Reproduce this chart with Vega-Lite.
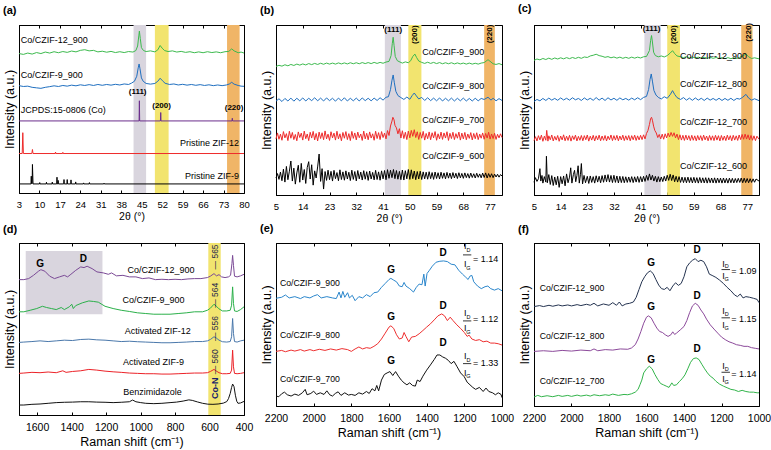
{
"$schema":"https://vega.github.io/schema/vega-lite/v6.json",
"padding":{"left":2,"top":2,"right":2,"bottom":2},
"columns":3,
"spacing":{"row":48,"column":32},
"bounds":"flush",
"resolve":{"scale":{"color":"independent","fill":"independent"}},
"datasets":{
"aB":[{"k":"g","x":42.2,"x2":46.5},{"k":"y","x":49.5,"x2":54.2},{"k":"o","x":74.2,"x2":78.5}],
"aL":[
{"s":"g","x":3,"y":83.0},{"s":"g","x":4.5,"y":82.5},{"s":"g","x":6,"y":83.3},{"s":"g","x":7.5,"y":82.7},{"s":"g","x":9,"y":83.6},{"s":"g","x":10.5,"y":83.0},{"s":"g","x":12,"y":83.9},{"s":"g","x":13.5,"y":83.3},{"s":"g","x":15,"y":84.1},{"s":"g","x":16.5,"y":83.5},{"s":"g","x":18,"y":84.2},{"s":"g","x":19.5,"y":83.7},{"s":"g","x":21,"y":84.5},{"s":"g","x":22.5,"y":84.0},{"s":"g","x":24,"y":84.9},{"s":"g","x":25.5,"y":85.3},{"s":"g","x":27,"y":84.6},{"s":"g","x":28.5,"y":84.9},{"s":"g","x":30,"y":84.0},{"s":"g","x":31.5,"y":84.4},{"s":"g","x":33,"y":83.8},{"s":"g","x":34.5,"y":84.3},{"s":"g","x":36,"y":83.6},{"s":"g","x":37.5,"y":84.1},{"s":"g","x":39,"y":83.6},{"s":"g","x":40.5,"y":84.2},{"s":"g","x":42,"y":83.9},{"s":"g","x":43,"y":84.8},{"s":"g","x":43.6,"y":87.5},{"s":"g","x":44,"y":93.5},{"s":"g","x":44.2,"y":96.4},{"s":"g","x":44.5,"y":92},{"s":"g","x":44.9,"y":86.5},{"s":"g","x":45.6,"y":84.8},{"s":"g","x":46.5,"y":84.2},{"s":"g","x":48,"y":84.6},{"s":"g","x":49.5,"y":84.0},{"s":"g","x":50.5,"y":85.2},{"s":"g","x":51.3,"y":87.8},{"s":"g","x":52,"y":86.2},{"s":"g","x":52.8,"y":84.8},{"s":"g","x":54,"y":84.2},{"s":"g","x":55.5,"y":84.6},{"s":"g","x":57,"y":83.9},{"s":"g","x":58.5,"y":84.3},{"s":"g","x":60,"y":83.7},{"s":"g","x":61.5,"y":84.1},{"s":"g","x":63,"y":83.5},{"s":"g","x":64.5,"y":84.0},{"s":"g","x":66,"y":83.5},{"s":"g","x":67.5,"y":84.1},{"s":"g","x":69,"y":83.6},{"s":"g","x":70.5,"y":84.0},{"s":"g","x":72,"y":83.5},{"s":"g","x":73.5,"y":84.1},{"s":"g","x":74.8,"y":84.3},{"s":"g","x":75.8,"y":85.8},{"s":"g","x":76.6,"y":84.6},{"s":"g","x":78,"y":83.5},{"s":"g","x":79,"y":83.9},{"s":"g","x":80,"y":83.3},
{"s":"b","x":3,"y":63.9},{"s":"b","x":4.5,"y":63.4},{"s":"b","x":6,"y":63.6},{"s":"b","x":7.5,"y":62.9},{"s":"b","x":9,"y":62.6},{"s":"b","x":10.5,"y":62.3},{"s":"b","x":12,"y":62.9},{"s":"b","x":13.5,"y":63.3},{"s":"b","x":15,"y":63.8},{"s":"b","x":16.5,"y":63.4},{"s":"b","x":18,"y":64.0},{"s":"b","x":19.5,"y":63.6},{"s":"b","x":21,"y":64.2},{"s":"b","x":22.5,"y":63.8},{"s":"b","x":24,"y":64.4},{"s":"b","x":25.5,"y":64.0},{"s":"b","x":27,"y":64.5},{"s":"b","x":28.5,"y":64.0},{"s":"b","x":30,"y":64.6},{"s":"b","x":31.5,"y":64.1},{"s":"b","x":33,"y":64.6},{"s":"b","x":34.5,"y":64.2},{"s":"b","x":36,"y":64.7},{"s":"b","x":37.5,"y":64.3},{"s":"b","x":39,"y":64.9},{"s":"b","x":40.5,"y":64.6},{"s":"b","x":41.5,"y":65.4},{"s":"b","x":42.5,"y":66.5},{"s":"b","x":43.3,"y":69.5},{"s":"b","x":43.8,"y":74.5},{"s":"b","x":44.1,"y":76.8},{"s":"b","x":44.4,"y":74},{"s":"b","x":44.9,"y":68.5},{"s":"b","x":45.5,"y":66.5},{"s":"b","x":46.5,"y":65.2},{"s":"b","x":48,"y":64.8},{"s":"b","x":49.5,"y":65.2},{"s":"b","x":50.5,"y":66.5},{"s":"b","x":51.3,"y":68.3},{"s":"b","x":52.1,"y":66.8},{"s":"b","x":53,"y":65.3},{"s":"b","x":54.5,"y":64.6},{"s":"b","x":56,"y":64.9},{"s":"b","x":57.5,"y":64.3},{"s":"b","x":59,"y":64.7},{"s":"b","x":60.5,"y":64.2},{"s":"b","x":62,"y":64.6},{"s":"b","x":63.5,"y":64.1},{"s":"b","x":65,"y":64.5},{"s":"b","x":66.5,"y":64.0},{"s":"b","x":68,"y":64.4},{"s":"b","x":69.5,"y":63.9},{"s":"b","x":71,"y":64.3},{"s":"b","x":72.5,"y":63.9},{"s":"b","x":74,"y":64.3},{"s":"b","x":75,"y":64.9},{"s":"b","x":75.8,"y":65.9},{"s":"b","x":76.6,"y":64.8},{"s":"b","x":78,"y":64.0},{"s":"b","x":79,"y":63.6},{"s":"b","x":80,"y":63.5},
{"s":"p","x":3,"y":42.9},{"s":"p","x":44.1,"y":42.9},{"s":"p","x":44.2,"y":54.9},{"s":"p","x":44.3,"y":42.9},{"s":"p","x":51.4,"y":42.9},{"s":"p","x":51.5,"y":47.9},{"s":"p","x":51.6,"y":42.9},{"s":"p","x":75.9,"y":42.9},{"s":"p","x":76.0,"y":44.5},{"s":"p","x":76.1,"y":42.9},{"s":"p","x":80,"y":42.9},
{"s":"r","x":3,"y":23.5},{"s":"r","x":4.1,"y":23.5},{"s":"r","x":4.3,"y":35.9},{"s":"r","x":4.5,"y":23.5},{"s":"r","x":7.4,"y":23.5},{"s":"r","x":7.6,"y":25.9},{"s":"r","x":7.8,"y":23.5},{"s":"r","x":15.4,"y":23.5},{"s":"r","x":15.5,"y":24.4},{"s":"r","x":15.6,"y":23.5},{"s":"r","x":17.9,"y":23.5},{"s":"r","x":18,"y":24.2},{"s":"r","x":18.1,"y":23.5},{"s":"r","x":80,"y":23.5},
{"s":"k","x":3,"y":5.4},{"s":"k","x":7.1,"y":5.4},{"s":"k","x":7.2,"y":10},{"s":"k","x":7.3,"y":5.6},{"s":"k","x":7.5,"y":5.6},{"s":"k","x":7.6,"y":17},{"s":"k","x":7.8,"y":5.4},{"s":"k","x":10,"y":5.4},{"s":"k","x":10.1,"y":6.2},{"s":"k","x":10.2,"y":5.4},{"s":"k","x":12.3,"y":5.4},{"s":"k","x":12.4,"y":6.4},{"s":"k","x":12.5,"y":5.4},{"s":"k","x":14.3,"y":5.4},{"s":"k","x":14.4,"y":6.5},{"s":"k","x":14.5,"y":5.4},{"s":"k","x":15.9,"y":5.4},{"s":"k","x":16.0,"y":9.4},{"s":"k","x":16.1,"y":5.4},{"s":"k","x":16.3,"y":5.4},{"s":"k","x":16.4,"y":7.5},{"s":"k","x":16.5,"y":5.4},{"s":"k","x":18.3,"y":5.4},{"s":"k","x":18.4,"y":8},{"s":"k","x":18.5,"y":5.4},{"s":"k","x":19.4,"y":5.4},{"s":"k","x":19.5,"y":8},{"s":"k","x":19.6,"y":5.4},{"s":"k","x":20.7,"y":5.4},{"s":"k","x":20.8,"y":7.8},{"s":"k","x":20.9,"y":5.4},{"s":"k","x":22.3,"y":5.4},{"s":"k","x":22.4,"y":6.6},{"s":"k","x":22.5,"y":5.4},{"s":"k","x":25,"y":5.4},{"s":"k","x":25.1,"y":6},{"s":"k","x":25.2,"y":5.4},{"s":"k","x":27,"y":5.4},{"s":"k","x":27.1,"y":6.2},{"s":"k","x":27.2,"y":5.4},{"s":"k","x":32,"y":5.4},{"s":"k","x":32.1,"y":5.9},{"s":"k","x":32.2,"y":5.4},{"s":"k","x":80,"y":5.4}
],
"aTl":[{"t":"Co/CZIF-12_900","x":3.6,"y":90.8},{"t":"Co/CZIF-9_900","x":3.6,"y":70.2},{"t":"JCPDS:15-0806 (Co)","x":3.6,"y":49.3}],
"aTr":[{"t":"Pristine ZIF-12","x":78.3,"y":29.5},{"t":"Pristine ZIF-9","x":78.3,"y":10}],
"aTb":[{"t":"(111)","x":43.6,"y":59.9},{"t":"(200)","x":51.8,"y":51.5},{"t":"(220)","x":76.6,"y":50.3}],
"bB":[{"k":"g","x":41.6,"x2":47.0},{"k":"y","x":49.5,"x2":53.9},{"k":"o","x":75,"x2":78.6}],
"bL":[
{"s":"g","x":5,"y":75.6},{"s":"g","x":6,"y":76.3},{"s":"g","x":7,"y":75.8},{"s":"g","x":8,"y":76.6},{"s":"g","x":9,"y":76.0},{"s":"g","x":10,"y":76.8},{"s":"g","x":11,"y":76.2},{"s":"g","x":12,"y":77.0},{"s":"g","x":13,"y":76.4},{"s":"g","x":14,"y":77.1},{"s":"g","x":15,"y":76.5},{"s":"g","x":16,"y":77.3},{"s":"g","x":17,"y":76.7},{"s":"g","x":18,"y":77.4},{"s":"g","x":19,"y":76.8},{"s":"g","x":20,"y":77.5},{"s":"g","x":21,"y":76.9},{"s":"g","x":22,"y":77.6},{"s":"g","x":23,"y":77.0},{"s":"g","x":24,"y":77.6},{"s":"g","x":25,"y":77.0},{"s":"g","x":26,"y":77.7},{"s":"g","x":27,"y":77.1},{"s":"g","x":28,"y":77.7},{"s":"g","x":29,"y":77.1},{"s":"g","x":30,"y":77.8},{"s":"g","x":31,"y":77.2},{"s":"g","x":32,"y":77.8},{"s":"g","x":33,"y":77.2},{"s":"g","x":34,"y":77.9},{"s":"g","x":35,"y":77.3},{"s":"g","x":36,"y":77.9},{"s":"g","x":37,"y":77.3},{"s":"g","x":38,"y":78.0},{"s":"g","x":39,"y":77.4},{"s":"g","x":40,"y":78.0},{"s":"g","x":41,"y":77.5},{"s":"g","x":42,"y":78.2},{"s":"g","x":43,"y":78.6},{"s":"g","x":43.7,"y":82},{"s":"g","x":44.1,"y":89},{"s":"g","x":44.4,"y":92.8},{"s":"g","x":44.7,"y":88},{"s":"g","x":45.1,"y":81.5},{"s":"g","x":45.8,"y":79},{"s":"g","x":46.7,"y":78.2},{"s":"g","x":47.5,"y":77.6},{"s":"g","x":48.5,"y":78.3},{"s":"g","x":49.5,"y":77.8},{"s":"g","x":50.3,"y":79.0},{"s":"g","x":51,"y":81.5},{"s":"g","x":51.7,"y":82.9},{"s":"g","x":52.3,"y":80.8},{"s":"g","x":53,"y":78.8},{"s":"g","x":54,"y":78.0},{"s":"g","x":55,"y":77.4},{"s":"g","x":56,"y":78.1},{"s":"g","x":57,"y":77.4},{"s":"g","x":58,"y":78.0},{"s":"g","x":59,"y":77.3},{"s":"g","x":60,"y":77.9},{"s":"g","x":61,"y":77.2},{"s":"g","x":62,"y":77.8},{"s":"g","x":63,"y":77.2},{"s":"g","x":64,"y":77.8},{"s":"g","x":65,"y":77.1},{"s":"g","x":66,"y":77.7},{"s":"g","x":67,"y":77.1},{"s":"g","x":68,"y":77.6},{"s":"g","x":69,"y":77.0},{"s":"g","x":70,"y":77.6},{"s":"g","x":71,"y":77.0},{"s":"g","x":72,"y":77.5},{"s":"g","x":73,"y":77.0},{"s":"g","x":74,"y":77.6},{"s":"g","x":75,"y":77.9},{"s":"g","x":76.3,"y":79.6},{"s":"g","x":77.3,"y":78.2},{"s":"g","x":78,"y":77.2},{"s":"g","x":79,"y":76.8},{"s":"g","x":80,"y":77.3},{"s":"g","x":81,"y":76.6},
{"s":"b","x":5,"y":55.2},{"s":"b","x":6,"y":56.6},{"s":"b","x":7,"y":55.0},{"s":"b","x":8,"y":56.8},{"s":"b","x":9,"y":55.3},{"s":"b","x":10,"y":57.0},{"s":"b","x":11,"y":55.2},{"s":"b","x":12,"y":56.9},{"s":"b","x":13,"y":55.4},{"s":"b","x":14,"y":57.1},{"s":"b","x":15,"y":55.3},{"s":"b","x":16,"y":56.9},{"s":"b","x":17,"y":55.5},{"s":"b","x":18,"y":57.2},{"s":"b","x":19,"y":55.4},{"s":"b","x":20,"y":57.0},{"s":"b","x":21,"y":55.3},{"s":"b","x":22,"y":57.1},{"s":"b","x":23,"y":55.5},{"s":"b","x":24,"y":56.9},{"s":"b","x":25,"y":55.2},{"s":"b","x":26,"y":57.0},{"s":"b","x":27,"y":55.4},{"s":"b","x":28,"y":57.2},{"s":"b","x":29,"y":55.3},{"s":"b","x":30,"y":56.9},{"s":"b","x":31,"y":55.4},{"s":"b","x":32,"y":57.0},{"s":"b","x":33,"y":55.3},{"s":"b","x":34,"y":57.1},{"s":"b","x":35,"y":55.5},{"s":"b","x":36,"y":56.9},{"s":"b","x":37,"y":55.4},{"s":"b","x":38,"y":57.0},{"s":"b","x":39,"y":55.6},{"s":"b","x":40,"y":57.2},{"s":"b","x":41,"y":55.8},{"s":"b","x":42,"y":57.5},{"s":"b","x":42.8,"y":57.8},{"s":"b","x":43.5,"y":62},{"s":"b","x":44.0,"y":67.5},{"s":"b","x":44.4,"y":70.6},{"s":"b","x":44.8,"y":66},{"s":"b","x":45.3,"y":61},{"s":"b","x":46,"y":58.5},{"s":"b","x":47,"y":57.3},{"s":"b","x":48,"y":56.2},{"s":"b","x":49,"y":57.6},{"s":"b","x":50,"y":56.3},{"s":"b","x":50.8,"y":58.5},{"s":"b","x":51.5,"y":60},{"s":"b","x":52.2,"y":58.3},{"s":"b","x":53,"y":56.5},{"s":"b","x":54,"y":57.4},{"s":"b","x":55,"y":55.6},{"s":"b","x":56,"y":57.2},{"s":"b","x":57,"y":55.5},{"s":"b","x":58,"y":57.0},{"s":"b","x":59,"y":55.4},{"s":"b","x":60,"y":57.1},{"s":"b","x":61,"y":55.3},{"s":"b","x":62,"y":56.9},{"s":"b","x":63,"y":55.4},{"s":"b","x":64,"y":57.0},{"s":"b","x":65,"y":55.3},{"s":"b","x":66,"y":56.9},{"s":"b","x":67,"y":55.4},{"s":"b","x":68,"y":57.0},{"s":"b","x":69,"y":55.3},{"s":"b","x":70,"y":56.8},{"s":"b","x":71,"y":55.3},{"s":"b","x":72,"y":56.9},{"s":"b","x":73,"y":55.4},{"s":"b","x":74,"y":56.8},{"s":"b","x":75,"y":56.2},{"s":"b","x":76.3,"y":57.5},{"s":"b","x":77.3,"y":55.8},{"s":"b","x":78,"y":56.9},{"s":"b","x":79,"y":55.4},{"s":"b","x":80,"y":56.7},{"s":"b","x":81,"y":55.6},
{"s":"r","x":5,"y":33.0},{"s":"r","x":5.5,"y":36.5},{"s":"r","x":6,"y":32.8},{"s":"r","x":6.5,"y":35.8},{"s":"r","x":7,"y":32.2},{"s":"r","x":7.5,"y":37.3},{"s":"r","x":8,"y":33.6},{"s":"r","x":8.5,"y":36.1},{"s":"r","x":9,"y":32.0},{"s":"r","x":9.5,"y":37.5},{"s":"r","x":10,"y":33.4},{"s":"r","x":10.5,"y":36.8},{"s":"r","x":11,"y":32.6},{"s":"r","x":11.5,"y":35.6},{"s":"r","x":12,"y":31.9},{"s":"r","x":12.5,"y":37.1},{"s":"r","x":13,"y":33.8},{"s":"r","x":13.5,"y":36.4},{"s":"r","x":14,"y":32.3},{"s":"r","x":14.5,"y":37.6},{"s":"r","x":15,"y":33.1},{"s":"r","x":15.5,"y":35.9},{"s":"r","x":16,"y":32.0},{"s":"r","x":16.5,"y":36.9},{"s":"r","x":17,"y":33.5},{"s":"r","x":17.5,"y":37.4},{"s":"r","x":18,"y":32.4},{"s":"r","x":18.5,"y":36.2},{"s":"r","x":19,"y":31.8},{"s":"r","x":19.5,"y":37.0},{"s":"r","x":20,"y":33.2},{"s":"r","x":20.5,"y":36.6},{"s":"r","x":21,"y":32.5},{"s":"r","x":21.5,"y":37.7},{"s":"r","x":22,"y":33.0},{"s":"r","x":22.5,"y":35.8},{"s":"r","x":23,"y":32.1},{"s":"r","x":23.5,"y":37.2},{"s":"r","x":24,"y":33.6},{"s":"r","x":24.5,"y":36.4},{"s":"r","x":25,"y":32.3},{"s":"r","x":25.5,"y":37.5},{"s":"r","x":26,"y":33.0},{"s":"r","x":26.5,"y":36.0},{"s":"r","x":27,"y":31.9},{"s":"r","x":27.5,"y":36.8},{"s":"r","x":28,"y":33.4},{"s":"r","x":28.5,"y":37.3},{"s":"r","x":29,"y":32.6},{"s":"r","x":29.5,"y":36.1},{"s":"r","x":30,"y":32.0},{"s":"r","x":30.5,"y":37.4},{"s":"r","x":31,"y":33.3},{"s":"r","x":31.5,"y":36.5},{"s":"r","x":32,"y":32.4},{"s":"r","x":32.5,"y":37.0},{"s":"r","x":33,"y":33.7},{"s":"r","x":33.5,"y":35.9},{"s":"r","x":34,"y":32.1},{"s":"r","x":34.5,"y":37.6},{"s":"r","x":35,"y":33.0},{"s":"r","x":35.5,"y":36.3},{"s":"r","x":36,"y":32.5},{"s":"r","x":36.5,"y":37.1},{"s":"r","x":37,"y":33.5},{"s":"r","x":37.5,"y":36.0},{"s":"r","x":38,"y":32.2},{"s":"r","x":38.5,"y":37.5},{"s":"r","x":39,"y":33.2},{"s":"r","x":39.5,"y":36.7},{"s":"r","x":40,"y":32.6},{"s":"r","x":40.5,"y":37.3},{"s":"r","x":41,"y":33.8},{"s":"r","x":41.5,"y":36.4},{"s":"r","x":42,"y":33.0},{"s":"r","x":42.5,"y":37.9},{"s":"r","x":43,"y":35.0},{"s":"r","x":43.5,"y":40.6},{"s":"r","x":44,"y":43.5},{"s":"r","x":44.3,"y":45.7},{"s":"r","x":44.7,"y":44.2},{"s":"r","x":45,"y":41.0},{"s":"r","x":45.5,"y":39.5},{"s":"r","x":46,"y":36.0},{"s":"r","x":46.5,"y":39.0},{"s":"r","x":47,"y":33.5},{"s":"r","x":47.5,"y":37.8},{"s":"r","x":48,"y":33.2},{"s":"r","x":48.5,"y":36.9},{"s":"r","x":49,"y":32.6},{"s":"r","x":49.5,"y":37.6},{"s":"r","x":50,"y":33.6},{"s":"r","x":50.5,"y":38.0},{"s":"r","x":51,"y":34.5},{"s":"r","x":51.5,"y":38.4},{"s":"r","x":52,"y":33.8},{"s":"r","x":52.5,"y":37.2},{"s":"r","x":53,"y":32.7},{"s":"r","x":53.5,"y":36.8},{"s":"r","x":54,"y":33.4},{"s":"r","x":54.5,"y":37.4},{"s":"r","x":55,"y":32.3},{"s":"r","x":55.5,"y":36.2},{"s":"r","x":56,"y":33.1},{"s":"r","x":56.5,"y":37.1},{"s":"r","x":57,"y":32.5},{"s":"r","x":57.5,"y":36.6},{"s":"r","x":58,"y":33.6},{"s":"r","x":58.5,"y":37.3},{"s":"r","x":59,"y":32.2},{"s":"r","x":59.5,"y":36.0},{"s":"r","x":60,"y":33.0},{"s":"r","x":60.5,"y":37.0},{"s":"r","x":61,"y":32.7},{"s":"r","x":61.5,"y":36.5},{"s":"r","x":62,"y":33.5},{"s":"r","x":62.5,"y":37.2},{"s":"r","x":63,"y":32.1},{"s":"r","x":63.5,"y":36.3},{"s":"r","x":64,"y":33.2},{"s":"r","x":64.5,"y":36.9},{"s":"r","x":65,"y":32.6},{"s":"r","x":65.5,"y":36.1},{"s":"r","x":66,"y":33.4},{"s":"r","x":66.5,"y":37.0},{"s":"r","x":67,"y":32.3},{"s":"r","x":67.5,"y":36.4},{"s":"r","x":68,"y":33.0},{"s":"r","x":68.5,"y":36.8},{"s":"r","x":69,"y":32.5},{"s":"r","x":69.5,"y":35.9},{"s":"r","x":70,"y":33.3},{"s":"r","x":70.5,"y":36.7},{"s":"r","x":71,"y":32.4},{"s":"r","x":71.5,"y":36.2},{"s":"r","x":72,"y":33.1},{"s":"r","x":72.5,"y":36.6},{"s":"r","x":73,"y":32.6},{"s":"r","x":73.5,"y":35.8},{"s":"r","x":74,"y":33.4},{"s":"r","x":74.5,"y":36.5},{"s":"r","x":75,"y":32.8},{"s":"r","x":75.5,"y":36.2},{"s":"r","x":76,"y":33.5},{"s":"r","x":76.5,"y":36.9},{"s":"r","x":77,"y":32.9},{"s":"r","x":77.5,"y":35.9},{"s":"r","x":78,"y":33.2},{"s":"r","x":78.5,"y":36.3},{"s":"r","x":79,"y":32.7},{"s":"r","x":79.5,"y":35.7},{"s":"r","x":80,"y":33.6},{"s":"r","x":80.5,"y":36.0},{"s":"r","x":81,"y":33.8},
{"s":"k","x":5,"y":10.0},{"s":"k","x":5.5,"y":12.6},{"s":"k","x":6,"y":9.2},{"s":"k","x":6.5,"y":13.5},{"s":"k","x":7,"y":8.4},{"s":"k","x":7.5,"y":15.2},{"s":"k","x":8,"y":7.6},{"s":"k","x":8.5,"y":16.8},{"s":"k","x":9,"y":9.0},{"s":"k","x":9.5,"y":14.0},{"s":"k","x":10,"y":20.0},{"s":"k","x":10.5,"y":8.2},{"s":"k","x":11,"y":15.8},{"s":"k","x":11.5,"y":6.4},{"s":"k","x":12,"y":13.0},{"s":"k","x":12.5,"y":17.5},{"s":"k","x":13,"y":7.5},{"s":"k","x":13.5,"y":18.6},{"s":"k","x":14,"y":8.8},{"s":"k","x":14.5,"y":15.0},{"s":"k","x":15,"y":6.8},{"s":"k","x":15.5,"y":16.2},{"s":"k","x":16,"y":19.6},{"s":"k","x":16.5,"y":9.4},{"s":"k","x":17,"y":17.8},{"s":"k","x":17.5,"y":5.8},{"s":"k","x":18,"y":14.2},{"s":"k","x":18.5,"y":10.0},{"s":"k","x":19,"y":16.5},{"s":"k","x":19.5,"y":24.1},{"s":"k","x":20,"y":8.0},{"s":"k","x":20.5,"y":15.5},{"s":"k","x":21,"y":3.5},{"s":"k","x":21.5,"y":13.8},{"s":"k","x":22,"y":8.6},{"s":"k","x":22.5,"y":14.6},{"s":"k","x":23,"y":9.0},{"s":"k","x":23.5,"y":13.9},{"s":"k","x":24,"y":8.2},{"s":"k","x":24.5,"y":14.5},{"s":"k","x":25,"y":9.6},{"s":"k","x":25.5,"y":13.2},{"s":"k","x":26,"y":8.4},{"s":"k","x":26.5,"y":14.8},{"s":"k","x":27,"y":9.1},{"s":"k","x":27.5,"y":13.6},{"s":"k","x":28,"y":8.7},{"s":"k","x":28.5,"y":14.2},{"s":"k","x":29,"y":9.4},{"s":"k","x":29.5,"y":13.4},{"s":"k","x":30,"y":8.5},{"s":"k","x":30.5,"y":14.6},{"s":"k","x":31,"y":9.2},{"s":"k","x":31.5,"y":13.8},{"s":"k","x":32,"y":8.3},{"s":"k","x":32.5,"y":14.4},{"s":"k","x":33,"y":9.5},{"s":"k","x":33.5,"y":13.5},{"s":"k","x":34,"y":8.8},{"s":"k","x":34.5,"y":14.3},{"s":"k","x":35,"y":9.3},{"s":"k","x":35.5,"y":13.7},{"s":"k","x":36,"y":8.6},{"s":"k","x":36.5,"y":14.1},{"s":"k","x":37,"y":9.4},{"s":"k","x":37.5,"y":13.3},{"s":"k","x":38,"y":8.9},{"s":"k","x":38.5,"y":14.5},{"s":"k","x":39,"y":9.1},{"s":"k","x":39.5,"y":13.6},{"s":"k","x":40,"y":8.7},{"s":"k","x":40.5,"y":14.2},{"s":"k","x":41,"y":9.5},{"s":"k","x":41.5,"y":14.4},{"s":"k","x":42,"y":9.0},{"s":"k","x":42.5,"y":14.9},{"s":"k","x":43,"y":9.8},{"s":"k","x":43.5,"y":14.6},{"s":"k","x":44,"y":10.2},{"s":"k","x":44.5,"y":15.0},{"s":"k","x":45,"y":9.6},{"s":"k","x":45.5,"y":14.4},{"s":"k","x":46,"y":9.3},{"s":"k","x":46.5,"y":13.9},{"s":"k","x":47,"y":9.0},{"s":"k","x":47.5,"y":14.7},{"s":"k","x":48,"y":8.8},{"s":"k","x":48.5,"y":14.3},{"s":"k","x":49,"y":9.5},{"s":"k","x":49.5,"y":15.0},{"s":"k","x":50,"y":9.2},{"s":"k","x":50.5,"y":14.8},{"s":"k","x":51,"y":9.6},{"s":"k","x":51.5,"y":14.1},{"s":"k","x":52,"y":9.0},{"s":"k","x":52.5,"y":13.8},{"s":"k","x":53,"y":9.4},{"s":"k","x":53.5,"y":14.0},{"s":"k","x":54,"y":9.1},{"s":"k","x":54.5,"y":13.6},{"s":"k","x":55,"y":9.5},{"s":"k","x":55.5,"y":13.4},{"s":"k","x":56,"y":9.3},{"s":"k","x":56.5,"y":13.7},{"s":"k","x":57,"y":9.6},{"s":"k","x":57.5,"y":13.2},{"s":"k","x":58,"y":9.2},{"s":"k","x":58.5,"y":13.5},{"s":"k","x":59,"y":9.7},{"s":"k","x":59.5,"y":13.1},{"s":"k","x":60,"y":9.4},{"s":"k","x":60.5,"y":13.4},{"s":"k","x":61,"y":9.8},{"s":"k","x":61.5,"y":13.0},{"s":"k","x":62,"y":9.5},{"s":"k","x":62.5,"y":13.3},{"s":"k","x":63,"y":9.9},{"s":"k","x":63.5,"y":12.9},{"s":"k","x":64,"y":9.6},{"s":"k","x":64.5,"y":13.2},{"s":"k","x":65,"y":10.0},{"s":"k","x":65.5,"y":12.8},{"s":"k","x":66,"y":9.7},{"s":"k","x":66.5,"y":13.1},{"s":"k","x":67,"y":10.1},{"s":"k","x":67.5,"y":12.7},{"s":"k","x":68,"y":9.8},{"s":"k","x":68.5,"y":13.0},{"s":"k","x":69,"y":10.2},{"s":"k","x":69.5,"y":12.6},{"s":"k","x":70,"y":9.9},{"s":"k","x":70.5,"y":12.9},{"s":"k","x":71,"y":10.3},{"s":"k","x":71.5,"y":12.5},{"s":"k","x":72,"y":10.0},{"s":"k","x":72.5,"y":12.8},{"s":"k","x":73,"y":10.4},{"s":"k","x":73.5,"y":12.4},{"s":"k","x":74,"y":10.1},{"s":"k","x":74.5,"y":12.9},{"s":"k","x":75,"y":10.3},{"s":"k","x":75.5,"y":13.0},{"s":"k","x":76,"y":10.0},{"s":"k","x":76.5,"y":12.6},{"s":"k","x":77,"y":10.4},{"s":"k","x":77.5,"y":12.5},{"s":"k","x":78,"y":10.2},{"s":"k","x":78.5,"y":12.3},{"s":"k","x":79,"y":10.6},{"s":"k","x":79.5,"y":12.2},{"s":"k","x":80,"y":10.5},{"s":"k","x":80.5,"y":12.0},{"s":"k","x":81,"y":11.2}
],
"bTr":[{"t":"Co/CZIF-9_900","x":75,"y":84.4},{"t":"Co/CZIF-9_800","x":75,"y":64.4},{"t":"Co/CZIF-9_700","x":75,"y":44.3},{"t":"Co/CZIF-9_600","x":75,"y":22.8}],
"bTh":[{"t":"(111)","x":44.4,"y":96.9}],
"bTv":[{"t":"(200)","x":51.7,"y":94.3},{"t":"(220)","x":77.0,"y":94.7}],
"cB":[{"k":"g","x":42.3,"x2":47.8},{"k":"y","x":50,"x2":54.3},{"k":"o","x":75,"x2":78.8}],
"cL":[
{"s":"g","x":5,"y":79.2},{"s":"g","x":6,"y":80.0},{"s":"g","x":7,"y":79.5},{"s":"g","x":8,"y":80.3},{"s":"g","x":9,"y":79.7},{"s":"g","x":10,"y":80.5},{"s":"g","x":11,"y":79.8},{"s":"g","x":12,"y":80.6},{"s":"g","x":13,"y":80.0},{"s":"g","x":14,"y":80.7},{"s":"g","x":15,"y":80.1},{"s":"g","x":16,"y":80.8},{"s":"g","x":17,"y":80.2},{"s":"g","x":18,"y":80.9},{"s":"g","x":19,"y":80.3},{"s":"g","x":20,"y":81.0},{"s":"g","x":21,"y":80.4},{"s":"g","x":22,"y":81.2},{"s":"g","x":23,"y":80.9},{"s":"g","x":24,"y":81.8},{"s":"g","x":25,"y":82.2},{"s":"g","x":26,"y":82.8},{"s":"g","x":27,"y":82.0},{"s":"g","x":28,"y":81.6},{"s":"g","x":29,"y":81.0},{"s":"g","x":30,"y":81.4},{"s":"g","x":31,"y":80.7},{"s":"g","x":32,"y":81.2},{"s":"g","x":33,"y":80.5},{"s":"g","x":34,"y":81.1},{"s":"g","x":35,"y":80.4},{"s":"g","x":36,"y":81.0},{"s":"g","x":37,"y":80.4},{"s":"g","x":38,"y":81.1},{"s":"g","x":39,"y":80.5},{"s":"g","x":40,"y":81.1},{"s":"g","x":41,"y":80.6},{"s":"g","x":42,"y":81.3},{"s":"g","x":43,"y":81.5},{"s":"g","x":44,"y":85},{"s":"g","x":44.4,"y":91},{"s":"g","x":44.7,"y":93.8},{"s":"g","x":45,"y":90},{"s":"g","x":45.4,"y":84},{"s":"g","x":46,"y":82},{"s":"g","x":47,"y":81.3},{"s":"g","x":48,"y":81.8},{"s":"g","x":49,"y":81.2},{"s":"g","x":50,"y":82.0},{"s":"g","x":51,"y":83.5},{"s":"g","x":51.8,"y":84.9},{"s":"g","x":52.5,"y":83.2},{"s":"g","x":53.3,"y":81.8},{"s":"g","x":54.5,"y":81.3},{"s":"g","x":55.5,"y":80.8},{"s":"g","x":56.5,"y":81.4},{"s":"g","x":57.5,"y":80.7},{"s":"g","x":58.5,"y":81.2},{"s":"g","x":59.5,"y":80.6},{"s":"g","x":60.5,"y":81.1},{"s":"g","x":61.5,"y":80.5},{"s":"g","x":62.5,"y":81.0},{"s":"g","x":63.5,"y":80.4},{"s":"g","x":64.5,"y":81.0},{"s":"g","x":65.5,"y":80.4},{"s":"g","x":66.5,"y":80.9},{"s":"g","x":67.5,"y":80.3},{"s":"g","x":68.5,"y":80.8},{"s":"g","x":69.5,"y":80.2},{"s":"g","x":70.5,"y":80.8},{"s":"g","x":71.5,"y":80.2},{"s":"g","x":72.5,"y":80.7},{"s":"g","x":73.5,"y":80.3},{"s":"g","x":74.5,"y":81.0},{"s":"g","x":75.5,"y":81.8},{"s":"g","x":76.6,"y":82.9},{"s":"g","x":77.5,"y":81.3},{"s":"g","x":78.5,"y":80.3},{"s":"g","x":79.5,"y":80.7},{"s":"g","x":81,"y":80.1},
{"s":"b","x":5,"y":55.0},{"s":"b","x":6,"y":56.2},{"s":"b","x":7,"y":55.4},{"s":"b","x":8,"y":56.8},{"s":"b","x":9,"y":55.6},{"s":"b","x":10,"y":57.0},{"s":"b","x":11,"y":55.8},{"s":"b","x":12,"y":56.8},{"s":"b","x":13,"y":55.7},{"s":"b","x":14,"y":57.1},{"s":"b","x":15,"y":55.9},{"s":"b","x":16,"y":56.9},{"s":"b","x":17,"y":55.8},{"s":"b","x":18,"y":57.2},{"s":"b","x":19,"y":56.0},{"s":"b","x":20,"y":56.8},{"s":"b","x":21,"y":55.6},{"s":"b","x":22,"y":57.1},{"s":"b","x":23,"y":55.9},{"s":"b","x":24,"y":56.9},{"s":"b","x":25,"y":55.7},{"s":"b","x":26,"y":57.3},{"s":"b","x":27,"y":55.8},{"s":"b","x":28,"y":57.0},{"s":"b","x":29,"y":55.6},{"s":"b","x":30,"y":57.2},{"s":"b","x":31,"y":55.9},{"s":"b","x":32,"y":56.9},{"s":"b","x":33,"y":55.7},{"s":"b","x":34,"y":57.1},{"s":"b","x":35,"y":56.0},{"s":"b","x":36,"y":56.8},{"s":"b","x":37,"y":55.8},{"s":"b","x":38,"y":57.0},{"s":"b","x":39,"y":56.0},{"s":"b","x":40,"y":57.2},{"s":"b","x":41,"y":56.1},{"s":"b","x":42,"y":57.4},{"s":"b","x":43,"y":58.0},{"s":"b","x":43.7,"y":62},{"s":"b","x":44.2,"y":68},{"s":"b","x":44.6,"y":71.2},{"s":"b","x":45,"y":67},{"s":"b","x":45.5,"y":61.5},{"s":"b","x":46.2,"y":58.8},{"s":"b","x":47,"y":57.4},{"s":"b","x":48,"y":56.5},{"s":"b","x":49,"y":57.8},{"s":"b","x":50,"y":56.9},{"s":"b","x":51,"y":59.0},{"s":"b","x":51.8,"y":61.4},{"s":"b","x":52.5,"y":59.2},{"s":"b","x":53.3,"y":57.3},{"s":"b","x":54.5,"y":56.2},{"s":"b","x":55.5,"y":57.3},{"s":"b","x":56.5,"y":55.8},{"s":"b","x":57.5,"y":57.0},{"s":"b","x":58.5,"y":55.7},{"s":"b","x":59.5,"y":57.1},{"s":"b","x":60.5,"y":55.8},{"s":"b","x":61.5,"y":56.9},{"s":"b","x":62.5,"y":55.6},{"s":"b","x":63.5,"y":57.0},{"s":"b","x":64.5,"y":55.8},{"s":"b","x":65.5,"y":56.8},{"s":"b","x":66.5,"y":55.7},{"s":"b","x":67.5,"y":56.9},{"s":"b","x":68.5,"y":55.6},{"s":"b","x":69.5,"y":56.8},{"s":"b","x":70.5,"y":55.7},{"s":"b","x":71.5,"y":56.9},{"s":"b","x":72.5,"y":55.6},{"s":"b","x":73.5,"y":56.8},{"s":"b","x":74.5,"y":56.4},{"s":"b","x":75.5,"y":57.5},{"s":"b","x":76.6,"y":59.2},{"s":"b","x":77.5,"y":57.0},{"s":"b","x":78.5,"y":55.8},{"s":"b","x":79.5,"y":56.6},{"s":"b","x":81,"y":55.5},
{"s":"r","x":5,"y":32.0},{"s":"r","x":5.5,"y":34.3},{"s":"r","x":6,"y":31.8},{"s":"r","x":6.5,"y":34.9},{"s":"r","x":7,"y":32.4},{"s":"r","x":7.5,"y":35.2},{"s":"r","x":8,"y":31.6},{"s":"r","x":8.5,"y":34.6},{"s":"r","x":9,"y":32.2},{"s":"r","x":9.3,"y":38.0},{"s":"r","x":9.7,"y":31.7},{"s":"r","x":10,"y":34.8},{"s":"r","x":10.5,"y":32.5},{"s":"r","x":11,"y":35.3},{"s":"r","x":11.5,"y":31.8},{"s":"r","x":12,"y":34.5},{"s":"r","x":12.5,"y":32.3},{"s":"r","x":13,"y":35.0},{"s":"r","x":13.5,"y":31.6},{"s":"r","x":14,"y":34.7},{"s":"r","x":14.5,"y":32.4},{"s":"r","x":15,"y":35.4},{"s":"r","x":15.5,"y":31.9},{"s":"r","x":16,"y":34.6},{"s":"r","x":16.5,"y":32.1},{"s":"r","x":17,"y":35.1},{"s":"r","x":17.5,"y":31.7},{"s":"r","x":18,"y":34.8},{"s":"r","x":18.5,"y":32.6},{"s":"r","x":19,"y":35.2},{"s":"r","x":19.5,"y":31.8},{"s":"r","x":20,"y":34.5},{"s":"r","x":20.5,"y":32.2},{"s":"r","x":21,"y":35.0},{"s":"r","x":21.5,"y":31.9},{"s":"r","x":22,"y":34.9},{"s":"r","x":22.5,"y":32.5},{"s":"r","x":23,"y":35.3},{"s":"r","x":23.5,"y":31.7},{"s":"r","x":24,"y":34.6},{"s":"r","x":24.5,"y":32.3},{"s":"r","x":25,"y":35.1},{"s":"r","x":25.5,"y":31.8},{"s":"r","x":26,"y":34.8},{"s":"r","x":26.5,"y":32.4},{"s":"r","x":27,"y":35.2},{"s":"r","x":27.5,"y":31.9},{"s":"r","x":28,"y":34.7},{"s":"r","x":28.5,"y":32.2},{"s":"r","x":29,"y":35.0},{"s":"r","x":29.5,"y":31.8},{"s":"r","x":30,"y":34.6},{"s":"r","x":30.5,"y":32.5},{"s":"r","x":31,"y":35.3},{"s":"r","x":31.5,"y":32.0},{"s":"r","x":32,"y":34.9},{"s":"r","x":32.5,"y":32.3},{"s":"r","x":33,"y":35.1},{"s":"r","x":33.5,"y":31.9},{"s":"r","x":34,"y":34.7},{"s":"r","x":34.5,"y":32.4},{"s":"r","x":35,"y":35.2},{"s":"r","x":35.5,"y":32.0},{"s":"r","x":36,"y":34.8},{"s":"r","x":36.5,"y":32.3},{"s":"r","x":37,"y":35.0},{"s":"r","x":37.5,"y":31.9},{"s":"r","x":38,"y":34.9},{"s":"r","x":38.5,"y":32.5},{"s":"r","x":39,"y":35.2},{"s":"r","x":39.5,"y":32.1},{"s":"r","x":40,"y":34.8},{"s":"r","x":40.5,"y":32.4},{"s":"r","x":41,"y":35.1},{"s":"r","x":41.5,"y":32.6},{"s":"r","x":42,"y":35.4},{"s":"r","x":42.5,"y":33.0},{"s":"r","x":43,"y":36.2},{"s":"r","x":43.5,"y":38.0},{"s":"r","x":44,"y":41.5},{"s":"r","x":44.4,"y":45.0},{"s":"r","x":44.7,"y":45.7},{"s":"r","x":45,"y":44.0},{"s":"r","x":45.4,"y":40.5},{"s":"r","x":45.8,"y":38.0},{"s":"r","x":46.3,"y":36.5},{"s":"r","x":46.8,"y":33.8},{"s":"r","x":47.3,"y":35.6},{"s":"r","x":47.8,"y":33.0},{"s":"r","x":48.3,"y":35.8},{"s":"r","x":48.8,"y":32.8},{"s":"r","x":49.3,"y":36.0},{"s":"r","x":49.8,"y":33.6},{"s":"r","x":50.3,"y":36.4},{"s":"r","x":50.8,"y":34.2},{"s":"r","x":51.3,"y":36.8},{"s":"r","x":51.8,"y":34.5},{"s":"r","x":52.3,"y":36.6},{"s":"r","x":52.8,"y":33.6},{"s":"r","x":53.3,"y":35.8},{"s":"r","x":53.8,"y":32.6},{"s":"r","x":54.3,"y":35.4},{"s":"r","x":54.8,"y":32.3},{"s":"r","x":55.3,"y":35.1},{"s":"r","x":55.8,"y":32.1},{"s":"r","x":56.3,"y":35.2},{"s":"r","x":56.8,"y":32.4},{"s":"r","x":57.3,"y":34.9},{"s":"r","x":57.8,"y":32.0},{"s":"r","x":58.3,"y":35.1},{"s":"r","x":58.8,"y":32.2},{"s":"r","x":59.3,"y":34.8},{"s":"r","x":59.8,"y":31.9},{"s":"r","x":60.3,"y":35.0},{"s":"r","x":60.8,"y":32.3},{"s":"r","x":61.3,"y":34.9},{"s":"r","x":61.8,"y":32.0},{"s":"r","x":62.3,"y":35.2},{"s":"r","x":62.8,"y":32.4},{"s":"r","x":63.3,"y":34.7},{"s":"r","x":63.8,"y":31.9},{"s":"r","x":64.3,"y":35.0},{"s":"r","x":64.8,"y":32.2},{"s":"r","x":65.3,"y":34.8},{"s":"r","x":65.8,"y":32.0},{"s":"r","x":66.3,"y":35.1},{"s":"r","x":66.8,"y":32.3},{"s":"r","x":67.3,"y":34.9},{"s":"r","x":67.8,"y":31.8},{"s":"r","x":68.3,"y":35.0},{"s":"r","x":68.8,"y":32.2},{"s":"r","x":69.3,"y":34.7},{"s":"r","x":69.8,"y":32.0},{"s":"r","x":70.3,"y":35.2},{"s":"r","x":70.8,"y":32.4},{"s":"r","x":71.3,"y":34.9},{"s":"r","x":71.8,"y":31.9},{"s":"r","x":72.3,"y":35.1},{"s":"r","x":72.8,"y":32.3},{"s":"r","x":73.3,"y":34.8},{"s":"r","x":73.8,"y":32.1},{"s":"r","x":74.3,"y":35.3},{"s":"r","x":74.8,"y":32.6},{"s":"r","x":75.3,"y":35.6},{"s":"r","x":75.8,"y":32.8},{"s":"r","x":76.3,"y":35.8},{"s":"r","x":76.8,"y":32.9},{"s":"r","x":77.3,"y":35.4},{"s":"r","x":77.8,"y":32.4},{"s":"r","x":78.3,"y":35.0},{"s":"r","x":78.8,"y":32.2},{"s":"r","x":79.3,"y":34.8},{"s":"r","x":79.8,"y":32.0},{"s":"r","x":80.3,"y":34.6},{"s":"r","x":81,"y":32.8},
{"s":"k","x":5,"y":7.5},{"s":"k","x":5.5,"y":10.2},{"s":"k","x":6,"y":8.0},{"s":"k","x":6.5,"y":9.6},{"s":"k","x":7,"y":15.5},{"s":"k","x":7.3,"y":8.2},{"s":"k","x":7.7,"y":11.5},{"s":"k","x":8,"y":7.0},{"s":"k","x":8.5,"y":10.8},{"s":"k","x":9.0,"y":7.6},{"s":"k","x":9.2,"y":22.8},{"s":"k","x":9.5,"y":7.2},{"s":"k","x":10,"y":12.0},{"s":"k","x":10.5,"y":6.2},{"s":"k","x":11,"y":11.4},{"s":"k","x":11.5,"y":5.6},{"s":"k","x":12,"y":10.6},{"s":"k","x":12.5,"y":6.0},{"s":"k","x":13,"y":11.0},{"s":"k","x":13.5,"y":4.5},{"s":"k","x":14,"y":10.8},{"s":"k","x":14.5,"y":6.6},{"s":"k","x":15,"y":11.2},{"s":"k","x":15.5,"y":5.4},{"s":"k","x":16,"y":12.4},{"s":"k","x":16.5,"y":7.2},{"s":"k","x":17,"y":10.5},{"s":"k","x":17.4,"y":16.0},{"s":"k","x":17.8,"y":7.0},{"s":"k","x":18.3,"y":12.0},{"s":"k","x":18.7,"y":14.5},{"s":"k","x":19.1,"y":7.8},{"s":"k","x":19.5,"y":11.5},{"s":"k","x":19.9,"y":17.2},{"s":"k","x":20.3,"y":7.0},{"s":"k","x":20.7,"y":12.2},{"s":"k","x":21,"y":18.5},{"s":"k","x":21.4,"y":6.5},{"s":"k","x":21.9,"y":11.5},{"s":"k","x":22.4,"y":7.2},{"s":"k","x":23,"y":11.0},{"s":"k","x":23.5,"y":6.8},{"s":"k","x":24,"y":11.2},{"s":"k","x":24.5,"y":7.4},{"s":"k","x":25,"y":10.8},{"s":"k","x":25.5,"y":7.0},{"s":"k","x":26,"y":11.3},{"s":"k","x":26.5,"y":7.6},{"s":"k","x":27,"y":11.0},{"s":"k","x":27.5,"y":7.2},{"s":"k","x":28,"y":11.4},{"s":"k","x":28.5,"y":7.5},{"s":"k","x":29,"y":11.8},{"s":"k","x":29.5,"y":7.8},{"s":"k","x":30,"y":12.0},{"s":"k","x":30.5,"y":7.6},{"s":"k","x":31,"y":11.5},{"s":"k","x":31.5,"y":7.3},{"s":"k","x":32,"y":11.6},{"s":"k","x":32.5,"y":7.4},{"s":"k","x":33,"y":11.2},{"s":"k","x":33.5,"y":7.1},{"s":"k","x":34,"y":11.0},{"s":"k","x":34.5,"y":7.3},{"s":"k","x":35,"y":10.9},{"s":"k","x":35.5,"y":7.2},{"s":"k","x":36,"y":10.7},{"s":"k","x":36.5,"y":7.4},{"s":"k","x":37,"y":10.6},{"s":"k","x":37.5,"y":7.5},{"s":"k","x":38,"y":10.8},{"s":"k","x":38.5,"y":7.3},{"s":"k","x":39,"y":10.7},{"s":"k","x":39.5,"y":7.6},{"s":"k","x":40,"y":10.9},{"s":"k","x":40.5,"y":7.4},{"s":"k","x":41,"y":10.8},{"s":"k","x":41.5,"y":7.7},{"s":"k","x":42,"y":11.0},{"s":"k","x":42.5,"y":8.0},{"s":"k","x":43,"y":11.5},{"s":"k","x":43.5,"y":8.6},{"s":"k","x":44,"y":12.4},{"s":"k","x":44.5,"y":8.8},{"s":"k","x":45,"y":11.6},{"s":"k","x":45.5,"y":8.2},{"s":"k","x":46,"y":11.0},{"s":"k","x":46.5,"y":7.6},{"s":"k","x":47,"y":10.8},{"s":"k","x":47.5,"y":7.8},{"s":"k","x":48,"y":10.6},{"s":"k","x":48.5,"y":7.9},{"s":"k","x":49,"y":11.0},{"s":"k","x":49.5,"y":8.2},{"s":"k","x":50,"y":11.6},{"s":"k","x":50.5,"y":8.6},{"s":"k","x":51,"y":12.2},{"s":"k","x":51.5,"y":8.5},{"s":"k","x":52,"y":11.8},{"s":"k","x":52.5,"y":7.8},{"s":"k","x":53,"y":11.0},{"s":"k","x":53.5,"y":7.6},{"s":"k","x":54,"y":10.8},{"s":"k","x":54.5,"y":7.4},{"s":"k","x":55,"y":10.5},{"s":"k","x":55.5,"y":7.3},{"s":"k","x":56,"y":10.4},{"s":"k","x":56.5,"y":7.2},{"s":"k","x":57,"y":10.5},{"s":"k","x":57.5,"y":7.3},{"s":"k","x":58,"y":10.3},{"s":"k","x":58.5,"y":7.1},{"s":"k","x":59,"y":10.4},{"s":"k","x":59.5,"y":7.2},{"s":"k","x":60,"y":10.2},{"s":"k","x":60.5,"y":7.0},{"s":"k","x":61,"y":10.3},{"s":"k","x":61.5,"y":7.2},{"s":"k","x":62,"y":10.1},{"s":"k","x":62.5,"y":7.1},{"s":"k","x":63,"y":10.2},{"s":"k","x":63.5,"y":7.0},{"s":"k","x":64,"y":10.1},{"s":"k","x":64.5,"y":7.2},{"s":"k","x":65,"y":10.0},{"s":"k","x":65.5,"y":7.1},{"s":"k","x":66,"y":10.1},{"s":"k","x":66.5,"y":7.0},{"s":"k","x":67,"y":10.0},{"s":"k","x":67.5,"y":7.2},{"s":"k","x":68,"y":9.9},{"s":"k","x":68.5,"y":7.0},{"s":"k","x":69,"y":10.0},{"s":"k","x":69.5,"y":7.1},{"s":"k","x":70,"y":9.8},{"s":"k","x":70.5,"y":7.0},{"s":"k","x":71,"y":9.9},{"s":"k","x":71.5,"y":7.2},{"s":"k","x":72,"y":9.8},{"s":"k","x":72.5,"y":7.1},{"s":"k","x":73,"y":9.7},{"s":"k","x":73.5,"y":7.3},{"s":"k","x":74,"y":9.8},{"s":"k","x":74.5,"y":7.4},{"s":"k","x":75,"y":10.0},{"s":"k","x":75.5,"y":7.2},{"s":"k","x":76,"y":9.9},{"s":"k","x":76.5,"y":7.3},{"s":"k","x":77,"y":9.7},{"s":"k","x":77.5,"y":7.2},{"s":"k","x":78,"y":9.6},{"s":"k","x":78.5,"y":7.4},{"s":"k","x":79,"y":9.5},{"s":"k","x":79.5,"y":7.5},{"s":"k","x":80,"y":9.4},{"s":"k","x":81,"y":8.2}
],
"cTl":[{"t":"Co/CZIF-12_900","x":54.3,"y":82},{"t":"Co/CZIF-12_800","x":54.3,"y":65.3},{"t":"Co/CZIF-12_700","x":54.3,"y":42.8},{"t":"Co/CZIF-12_600","x":54.3,"y":17.3}],
"cTh":[{"t":"(111)","x":44.7,"y":97.6}],
"cTv":[{"t":"(200)","x":52.4,"y":94.3},{"t":"(220)","x":77.7,"y":95.7}],
"dB":[{"k":"y","x":607,"x2":535}],
"dBox":[{"x":1666,"x2":1221,"y":58.6,"y2":95.4}],
"dL":[
{"s":"p","x":1705,"y":78.7},{"s":"p","x":1677,"y":78.7},{"s":"p","x":1649,"y":79.3},{"s":"p","x":1621,"y":81.2},{"s":"p","x":1592,"y":83.6},{"s":"p","x":1578,"y":84.5},{"s":"p","x":1555,"y":83.6},{"s":"p","x":1527,"y":80.7},{"s":"p","x":1499,"y":79.3},{"s":"p","x":1470,"y":80.3},{"s":"p","x":1442,"y":81.2},{"s":"p","x":1423,"y":80.3},{"s":"p","x":1404,"y":81.8},{"s":"p","x":1376,"y":84.1},{"s":"p","x":1347,"y":86.1},{"s":"p","x":1328,"y":85.7},{"s":"p","x":1310,"y":86.5},{"s":"p","x":1281,"y":85.1},{"s":"p","x":1253,"y":83.2},{"s":"p","x":1215,"y":82.6},{"s":"p","x":1187,"y":81.8},{"s":"p","x":1168,"y":82.6},{"s":"p","x":1140,"y":80.9},{"s":"p","x":1102,"y":81.2},{"s":"p","x":1065,"y":80.3},{"s":"p","x":1027,"y":80.3},{"s":"p","x":989,"y":79.3},{"s":"p","x":951,"y":79.7},{"s":"p","x":914,"y":78.7},{"s":"p","x":876,"y":78.9},{"s":"p","x":838,"y":78.7},{"s":"p","x":800,"y":78.9},{"s":"p","x":763,"y":78.7},{"s":"p","x":725,"y":79.1},{"s":"p","x":687,"y":79.3},{"s":"p","x":650,"y":79.3},{"s":"p","x":612,"y":79.9},{"s":"p","x":595,"y":80.7},{"s":"p","x":574,"y":82.2},{"s":"p","x":560,"y":80.9},{"s":"p","x":545,"y":81.6},{"s":"p","x":530,"y":80.3},{"s":"p","x":510,"y":79.9},{"s":"p","x":490,"y":80.3},{"s":"p","x":478,"y":81.2},{"s":"p","x":470,"y":88.0},{"s":"p","x":466,"y":92.8},{"s":"p","x":461,"y":87.0},{"s":"p","x":455,"y":80.7},{"s":"p","x":440,"y":80.3},{"s":"p","x":420,"y":80.9},{"s":"p","x":400,"y":81.8},
{"s":"g","x":1705,"y":60.0},{"s":"g","x":1677,"y":60.0},{"s":"g","x":1640,"y":60.9},{"s":"g","x":1602,"y":61.9},{"s":"g","x":1569,"y":63.2},{"s":"g","x":1545,"y":62.5},{"s":"g","x":1517,"y":61.9},{"s":"g","x":1489,"y":61.3},{"s":"g","x":1460,"y":62.5},{"s":"g","x":1442,"y":61.3},{"s":"g","x":1413,"y":62.9},{"s":"g","x":1399,"y":64.4},{"s":"g","x":1390,"y":61.9},{"s":"g","x":1376,"y":63.6},{"s":"g","x":1338,"y":65.2},{"s":"g","x":1300,"y":66.3},{"s":"g","x":1272,"y":66.0},{"s":"g","x":1245,"y":65.6},{"s":"g","x":1206,"y":63.2},{"s":"g","x":1159,"y":61.9},{"s":"g","x":1112,"y":60.9},{"s":"g","x":1065,"y":60.2},{"s":"g","x":1017,"y":59.4},{"s":"g","x":970,"y":59.0},{"s":"g","x":923,"y":58.6},{"s":"g","x":876,"y":58.6},{"s":"g","x":829,"y":58.6},{"s":"g","x":782,"y":59.0},{"s":"g","x":735,"y":59.4},{"s":"g","x":687,"y":60.0},{"s":"g","x":640,"y":60.0},{"s":"g","x":612,"y":60.9},{"s":"g","x":595,"y":62.1},{"s":"g","x":574,"y":64.4},{"s":"g","x":560,"y":63.2},{"s":"g","x":545,"y":61.7},{"s":"g","x":525,"y":60.5},{"s":"g","x":500,"y":60.5},{"s":"g","x":480,"y":60.9},{"s":"g","x":472,"y":63.8},{"s":"g","x":466,"y":74.5},{"s":"g","x":461,"y":64.8},{"s":"g","x":455,"y":60.5},{"s":"g","x":440,"y":60.2},{"s":"g","x":420,"y":61.3},{"s":"g","x":400,"y":62.9},
{"s":"b","x":1705,"y":42.2},{"s":"b","x":1677,"y":42.4},{"s":"b","x":1630,"y":42.7},{"s":"b","x":1583,"y":43.1},{"s":"b","x":1536,"y":42.7},{"s":"b","x":1489,"y":43.1},{"s":"b","x":1442,"y":43.5},{"s":"b","x":1395,"y":43.3},{"s":"b","x":1347,"y":43.9},{"s":"b","x":1300,"y":44.1},{"s":"b","x":1254,"y":43.7},{"s":"b","x":1206,"y":43.5},{"s":"b","x":1159,"y":43.1},{"s":"b","x":1112,"y":42.7},{"s":"b","x":1065,"y":42.9},{"s":"b","x":1017,"y":42.6},{"s":"b","x":970,"y":42.4},{"s":"b","x":923,"y":42.2},{"s":"b","x":876,"y":42.0},{"s":"b","x":829,"y":42.0},{"s":"b","x":782,"y":42.2},{"s":"b","x":735,"y":42.4},{"s":"b","x":687,"y":42.7},{"s":"b","x":640,"y":42.7},{"s":"b","x":612,"y":43.1},{"s":"b","x":595,"y":43.9},{"s":"b","x":574,"y":45.5},{"s":"b","x":560,"y":44.7},{"s":"b","x":545,"y":43.5},{"s":"b","x":525,"y":42.6},{"s":"b","x":500,"y":42.4},{"s":"b","x":480,"y":42.7},{"s":"b","x":472,"y":45.5},{"s":"b","x":466,"y":56.1},{"s":"b","x":461,"y":47.4},{"s":"b","x":455,"y":42.7},{"s":"b","x":440,"y":42.4},{"s":"b","x":420,"y":43.1},{"s":"b","x":400,"y":43.5},
{"s":"r","x":1705,"y":24.2},{"s":"r","x":1677,"y":24.4},{"s":"r","x":1630,"y":24.8},{"s":"r","x":1583,"y":24.6},{"s":"r","x":1536,"y":25.0},{"s":"r","x":1489,"y":24.6},{"s":"r","x":1451,"y":25.7},{"s":"r","x":1432,"y":24.8},{"s":"r","x":1395,"y":25.3},{"s":"r","x":1347,"y":25.7},{"s":"r","x":1300,"y":26.5},{"s":"r","x":1254,"y":26.1},{"s":"r","x":1206,"y":25.5},{"s":"r","x":1159,"y":25.1},{"s":"r","x":1112,"y":24.8},{"s":"r","x":1065,"y":24.4},{"s":"r","x":1017,"y":24.2},{"s":"r","x":970,"y":24.0},{"s":"r","x":923,"y":24.0},{"s":"r","x":876,"y":23.8},{"s":"r","x":829,"y":23.8},{"s":"r","x":782,"y":24.0},{"s":"r","x":735,"y":24.2},{"s":"r","x":687,"y":24.4},{"s":"r","x":640,"y":24.4},{"s":"r","x":612,"y":24.6},{"s":"r","x":595,"y":25.3},{"s":"r","x":574,"y":26.5},{"s":"r","x":560,"y":25.5},{"s":"r","x":545,"y":24.6},{"s":"r","x":525,"y":24.0},{"s":"r","x":500,"y":24.0},{"s":"r","x":480,"y":24.2},{"s":"r","x":472,"y":26.1},{"s":"r","x":466,"y":37.7},{"s":"r","x":461,"y":28.0},{"s":"r","x":455,"y":24.2},{"s":"r","x":440,"y":24.0},{"s":"r","x":420,"y":24.2},{"s":"r","x":400,"y":24.6},
{"s":"k","x":1705,"y":5.8},{"s":"k","x":1677,"y":5.8},{"s":"k","x":1630,"y":6.2},{"s":"k","x":1583,"y":6.4},{"s":"k","x":1536,"y":6.8},{"s":"k","x":1489,"y":7.2},{"s":"k","x":1442,"y":7.4},{"s":"k","x":1395,"y":7.5},{"s":"k","x":1347,"y":7.7},{"s":"k","x":1300,"y":7.7},{"s":"k","x":1254,"y":7.5},{"s":"k","x":1206,"y":7.4},{"s":"k","x":1159,"y":7.2},{"s":"k","x":1112,"y":7.4},{"s":"k","x":1065,"y":7.7},{"s":"k","x":1046,"y":8.7},{"s":"k","x":1027,"y":7.7},{"s":"k","x":999,"y":7.2},{"s":"k","x":970,"y":6.8},{"s":"k","x":923,"y":6.6},{"s":"k","x":876,"y":6.8},{"s":"k","x":829,"y":7.2},{"s":"k","x":791,"y":7.5},{"s":"k","x":753,"y":8.1},{"s":"k","x":720,"y":8.8},{"s":"k","x":700,"y":8.5},{"s":"k","x":670,"y":7.6},{"s":"k","x":640,"y":6.8},{"s":"k","x":610,"y":6.3},{"s":"k","x":580,"y":6.2},{"s":"k","x":550,"y":6.4},{"s":"k","x":520,"y":6.9},{"s":"k","x":500,"y":7.8},{"s":"k","x":490,"y":9.5},{"s":"k","x":480,"y":12.5},{"s":"k","x":472,"y":16},{"s":"k","x":466,"y":18},{"s":"k","x":458,"y":16.5},{"s":"k","x":450,"y":11.5},{"s":"k","x":442,"y":8.0},{"s":"k","x":435,"y":6.8},{"s":"k","x":420,"y":7.0},{"s":"k","x":400,"y":7.9}
],
"dTc":[{"t":"Co/CZIF-12_900","x":881,"y":84.5},{"t":"Co/CZIF-9_900","x":925,"y":67.1},{"t":"Activated ZIF-12","x":900,"y":48.9},{"t":"Activated ZIF-9","x":925,"y":30.9},{"t":"Benzimidazole","x":931,"y":13.5}],
"dTb":[{"t":"G","x":1583,"y":88},{"t":"D","x":1331,"y":90.9}],
"dTv":[{"t":"— 565","x":571,"y":91.9},{"t":"— 564","x":571,"y":69.6},{"t":"— 556","x":571,"y":50.3},{"t":"— 560","x":571,"y":30.9}],
"dTn":[{"t":"Co-N","x":571,"y":15.5}],
"eL":[
{"s":"b","x":2200,"y":66.1},{"s":"b","x":2170,"y":66.7},{"s":"b","x":2150,"y":68.1},{"s":"b","x":2130,"y":66.3},{"s":"b","x":2100,"y":67.1},{"s":"b","x":2070,"y":65.9},{"s":"b","x":2050,"y":67.1},{"s":"b","x":2020,"y":66.3},{"s":"b","x":2000,"y":67.5},{"s":"b","x":1980,"y":68.3},{"s":"b","x":1960,"y":66.3},{"s":"b","x":1930,"y":67.1},{"s":"b","x":1900,"y":66.3},{"s":"b","x":1880,"y":65.9},{"s":"b","x":1865,"y":69.9},{"s":"b","x":1855,"y":66.3},{"s":"b","x":1845,"y":70.3},{"s":"b","x":1835,"y":66.7},{"s":"b","x":1820,"y":69.5},{"s":"b","x":1810,"y":66.3},{"s":"b","x":1795,"y":67.9},{"s":"b","x":1780,"y":64.6},{"s":"b","x":1760,"y":67.1},{"s":"b","x":1740,"y":66.3},{"s":"b","x":1720,"y":68.3},{"s":"b","x":1700,"y":67.1},{"s":"b","x":1680,"y":69.5},{"s":"b","x":1660,"y":69.9},{"s":"b","x":1640,"y":72.8},{"s":"b","x":1620,"y":75.2},{"s":"b","x":1600,"y":77.6},{"s":"b","x":1590,"y":78.3},{"s":"b","x":1575,"y":77.2},{"s":"b","x":1560,"y":76.2},{"s":"b","x":1545,"y":73.6},{"s":"b","x":1530,"y":73.2},{"s":"b","x":1520,"y":75.8},{"s":"b","x":1510,"y":73.6},{"s":"b","x":1490,"y":72.0},{"s":"b","x":1470,"y":69.9},{"s":"b","x":1455,"y":72.8},{"s":"b","x":1440,"y":74.8},{"s":"b","x":1425,"y":74.4},{"s":"b","x":1415,"y":80.9},{"s":"b","x":1408,"y":73.6},{"s":"b","x":1398,"y":81.3},{"s":"b","x":1385,"y":83.3},{"s":"b","x":1370,"y":85.8},{"s":"b","x":1350,"y":88.2},{"s":"b","x":1330,"y":88.8},{"s":"b","x":1310,"y":89.0},{"s":"b","x":1290,"y":88.6},{"s":"b","x":1270,"y":87.0},{"s":"b","x":1250,"y":86.6},{"s":"b","x":1230,"y":83.3},{"s":"b","x":1210,"y":80.9},{"s":"b","x":1195,"y":79.3},{"s":"b","x":1180,"y":77.6},{"s":"b","x":1170,"y":79.7},{"s":"b","x":1160,"y":80.1},{"s":"b","x":1150,"y":76.2},{"s":"b","x":1130,"y":73.6},{"s":"b","x":1110,"y":72.0},{"s":"b","x":1090,"y":73.2},{"s":"b","x":1075,"y":73.6},{"s":"b","x":1060,"y":72.0},{"s":"b","x":1040,"y":71.1},{"s":"b","x":1020,"y":72.0},{"s":"b","x":1000,"y":70.7},
{"s":"r","x":2200,"y":33.5},{"s":"r","x":2170,"y":34.1},{"s":"r","x":2150,"y":33.3},{"s":"r","x":2120,"y":34.3},{"s":"r","x":2100,"y":33.7},{"s":"r","x":2070,"y":34.6},{"s":"r","x":2050,"y":33.7},{"s":"r","x":2020,"y":34.6},{"s":"r","x":2000,"y":33.9},{"s":"r","x":1970,"y":34.8},{"s":"r","x":1940,"y":34.1},{"s":"r","x":1910,"y":35.0},{"s":"r","x":1880,"y":34.3},{"s":"r","x":1850,"y":35.2},{"s":"r","x":1820,"y":34.6},{"s":"r","x":1800,"y":33.5},{"s":"r","x":1780,"y":35.0},{"s":"r","x":1760,"y":36.2},{"s":"r","x":1740,"y":35.0},{"s":"r","x":1720,"y":35.8},{"s":"r","x":1700,"y":35.4},{"s":"r","x":1680,"y":36.6},{"s":"r","x":1660,"y":38.2},{"s":"r","x":1640,"y":41.1},{"s":"r","x":1620,"y":44.7},{"s":"r","x":1600,"y":48.4},{"s":"r","x":1590,"y":49.2},{"s":"r","x":1575,"y":47.6},{"s":"r","x":1560,"y":43.7},{"s":"r","x":1545,"y":41.1},{"s":"r","x":1530,"y":41.7},{"s":"r","x":1520,"y":45.1},{"s":"r","x":1510,"y":42.7},{"s":"r","x":1495,"y":39.4},{"s":"r","x":1480,"y":42.3},{"s":"r","x":1460,"y":42.7},{"s":"r","x":1440,"y":44.3},{"s":"r","x":1420,"y":46.3},{"s":"r","x":1400,"y":48.4},{"s":"r","x":1380,"y":50.4},{"s":"r","x":1360,"y":52.8},{"s":"r","x":1340,"y":55.3},{"s":"r","x":1320,"y":56.5},{"s":"r","x":1305,"y":55.3},{"s":"r","x":1290,"y":52.4},{"s":"r","x":1275,"y":54.5},{"s":"r","x":1260,"y":52.4},{"s":"r","x":1240,"y":49.8},{"s":"r","x":1220,"y":47.6},{"s":"r","x":1200,"y":45.1},{"s":"r","x":1185,"y":42.7},{"s":"r","x":1175,"y":43.5},{"s":"r","x":1160,"y":41.1},{"s":"r","x":1140,"y":40.2},{"s":"r","x":1120,"y":40.7},{"s":"r","x":1100,"y":39.4},{"s":"r","x":1080,"y":39.8},{"s":"r","x":1060,"y":38.6},{"s":"r","x":1040,"y":38.6},{"s":"r","x":1020,"y":38.2},{"s":"r","x":1000,"y":37.4},
{"s":"k","x":2200,"y":6.1},{"s":"k","x":2185,"y":5.7},{"s":"k","x":2170,"y":7.5},{"s":"k","x":2155,"y":8.5},{"s":"k","x":2140,"y":6.9},{"s":"k","x":2120,"y":6.1},{"s":"k","x":2100,"y":7.3},{"s":"k","x":2080,"y":6.5},{"s":"k","x":2060,"y":8.1},{"s":"k","x":2045,"y":10.2},{"s":"k","x":2035,"y":6.9},{"s":"k","x":2015,"y":7.7},{"s":"k","x":2000,"y":9.1},{"s":"k","x":1985,"y":7.1},{"s":"k","x":1965,"y":8.1},{"s":"k","x":1945,"y":7.1},{"s":"k","x":1930,"y":9.3},{"s":"k","x":1915,"y":6.9},{"s":"k","x":1900,"y":6.1},{"s":"k","x":1885,"y":7.7},{"s":"k","x":1870,"y":8.7},{"s":"k","x":1855,"y":6.5},{"s":"k","x":1835,"y":8.1},{"s":"k","x":1815,"y":6.7},{"s":"k","x":1800,"y":7.1},{"s":"k","x":1780,"y":6.5},{"s":"k","x":1760,"y":8.1},{"s":"k","x":1740,"y":7.3},{"s":"k","x":1720,"y":8.9},{"s":"k","x":1705,"y":7.7},{"s":"k","x":1690,"y":10.6},{"s":"k","x":1675,"y":9.3},{"s":"k","x":1665,"y":12.6},{"s":"k","x":1655,"y":9.3},{"s":"k","x":1640,"y":15.9},{"s":"k","x":1625,"y":19.3},{"s":"k","x":1610,"y":20.3},{"s":"k","x":1595,"y":21.1},{"s":"k","x":1580,"y":18.7},{"s":"k","x":1565,"y":21.1},{"s":"k","x":1550,"y":18.3},{"s":"k","x":1535,"y":15.9},{"s":"k","x":1520,"y":14.2},{"s":"k","x":1505,"y":13.0},{"s":"k","x":1490,"y":14.2},{"s":"k","x":1475,"y":12.6},{"s":"k","x":1460,"y":12.2},{"s":"k","x":1450,"y":15.9},{"s":"k","x":1435,"y":15.0},{"s":"k","x":1420,"y":18.3},{"s":"k","x":1400,"y":22.0},{"s":"k","x":1380,"y":25.2},{"s":"k","x":1360,"y":28.5},{"s":"k","x":1345,"y":31.3},{"s":"k","x":1330,"y":31.3},{"s":"k","x":1315,"y":30.1},{"s":"k","x":1300,"y":29.3},{"s":"k","x":1285,"y":28.0},{"s":"k","x":1270,"y":26.0},{"s":"k","x":1255,"y":27.4},{"s":"k","x":1240,"y":24.4},{"s":"k","x":1220,"y":20.3},{"s":"k","x":1200,"y":17.9},{"s":"k","x":1185,"y":14.6},{"s":"k","x":1170,"y":13.0},{"s":"k","x":1155,"y":11.4},{"s":"k","x":1140,"y":10.2},{"s":"k","x":1120,"y":11.4},{"s":"k","x":1100,"y":8.9},{"s":"k","x":1085,"y":11.0},{"s":"k","x":1070,"y":8.9},{"s":"k","x":1050,"y":8.1},{"s":"k","x":1035,"y":6.9},{"s":"k","x":1020,"y":8.1},{"s":"k","x":1005,"y":7.1},{"s":"k","x":1000,"y":5.1}
],
"eTl":[{"t":"Co/CZIF-9_900","x":2179,"y":75.2},{"t":"Co/CZIF-9_800","x":2179,"y":43.7},{"t":"Co/CZIF-9_700","x":2179,"y":16.3}],
"eTb":[{"t":"G","x":1588,"y":83.7},{"t":"G","x":1588,"y":54.9},{"t":"G","x":1588,"y":27.4},{"t":"D","x":1313,"y":93.9},{"t":"D","x":1313,"y":61.4},{"t":"D","x":1313,"y":38.6}],
"eI":[{"t":"I","x":1195,"y":98.0},{"t":"I","x":1195,"y":87.0},{"t":"I","x":1195,"y":57.3},{"t":"I","x":1195,"y":47.6},{"t":"I","x":1195,"y":30.5},{"t":"I","x":1195,"y":20.3}],
"eS":[{"t":"D","x":1178,"y":95.5},{"t":"G","x":1178,"y":84.9},{"t":"D","x":1178,"y":54.9},{"t":"G","x":1178,"y":45.1},{"t":"D","x":1178,"y":28.0},{"t":"G","x":1178,"y":18.3}],
"eR":[{"x":1207,"x2":1163,"y":92.7},{"x":1207,"x2":1163,"y":52.2},{"x":1207,"x2":1163,"y":26.0}],
"eE":[{"t":"= 1.14","x":1154,"y":90.4},{"t":"= 1.12","x":1154,"y":53.3},{"t":"= 1.33","x":1154,"y":26.4}],
"fL":[
{"s":"n","x":2200,"y":61.0},{"s":"n","x":2170,"y":61.6},{"s":"n","x":2150,"y":61.0},{"s":"n","x":2120,"y":61.8},{"s":"n","x":2100,"y":61.2},{"s":"n","x":2070,"y":62.0},{"s":"n","x":2050,"y":61.4},{"s":"n","x":2020,"y":62.0},{"s":"n","x":2000,"y":61.4},{"s":"n","x":1970,"y":62.2},{"s":"n","x":1950,"y":61.6},{"s":"n","x":1920,"y":62.4},{"s":"n","x":1900,"y":61.8},{"s":"n","x":1880,"y":63.0},{"s":"n","x":1860,"y":61.4},{"s":"n","x":1830,"y":62.6},{"s":"n","x":1800,"y":61.8},{"s":"n","x":1780,"y":63.4},{"s":"n","x":1760,"y":61.8},{"s":"n","x":1745,"y":63.8},{"s":"n","x":1730,"y":61.4},{"s":"n","x":1710,"y":62.6},{"s":"n","x":1690,"y":63.0},{"s":"n","x":1670,"y":63.8},{"s":"n","x":1655,"y":66.7},{"s":"n","x":1640,"y":71.5},{"s":"n","x":1625,"y":76.2},{"s":"n","x":1610,"y":79.3},{"s":"n","x":1595,"y":81.7},{"s":"n","x":1580,"y":82.9},{"s":"n","x":1565,"y":81.3},{"s":"n","x":1550,"y":77.6},{"s":"n","x":1535,"y":74.2},{"s":"n","x":1520,"y":72.0},{"s":"n","x":1505,"y":71.5},{"s":"n","x":1490,"y":72.8},{"s":"n","x":1475,"y":70.7},{"s":"n","x":1460,"y":73.6},{"s":"n","x":1445,"y":75.6},{"s":"n","x":1430,"y":74.0},{"s":"n","x":1415,"y":75.2},{"s":"n","x":1400,"y":79.3},{"s":"n","x":1385,"y":85.4},{"s":"n","x":1370,"y":87.8},{"s":"n","x":1355,"y":89.4},{"s":"n","x":1340,"y":90.4},{"s":"n","x":1325,"y":88.6},{"s":"n","x":1310,"y":89.4},{"s":"n","x":1295,"y":88.6},{"s":"n","x":1280,"y":85.4},{"s":"n","x":1265,"y":80.9},{"s":"n","x":1250,"y":80.1},{"s":"n","x":1230,"y":78.9},{"s":"n","x":1210,"y":77.2},{"s":"n","x":1190,"y":75.2},{"s":"n","x":1170,"y":72.8},{"s":"n","x":1150,"y":70.7},{"s":"n","x":1130,"y":68.1},{"s":"n","x":1115,"y":67.1},{"s":"n","x":1100,"y":68.7},{"s":"n","x":1085,"y":66.3},{"s":"n","x":1070,"y":67.1},{"s":"n","x":1050,"y":66.7},{"s":"n","x":1030,"y":66.1},{"s":"n","x":1010,"y":65.4},{"s":"n","x":1000,"y":63.4},
{"s":"p","x":2200,"y":33.5},{"s":"p","x":2150,"y":33.9},{"s":"p","x":2100,"y":33.5},{"s":"p","x":2050,"y":34.1},{"s":"p","x":2000,"y":33.7},{"s":"p","x":1950,"y":34.3},{"s":"p","x":1900,"y":33.9},{"s":"p","x":1880,"y":35.0},{"s":"p","x":1860,"y":33.9},{"s":"p","x":1820,"y":34.6},{"s":"p","x":1780,"y":34.3},{"s":"p","x":1740,"y":35.0},{"s":"p","x":1700,"y":34.8},{"s":"p","x":1680,"y":35.6},{"s":"p","x":1660,"y":37.6},{"s":"p","x":1645,"y":41.1},{"s":"p","x":1630,"y":45.7},{"s":"p","x":1615,"y":50.8},{"s":"p","x":1600,"y":54.5},{"s":"p","x":1590,"y":55.3},{"s":"p","x":1575,"y":54.1},{"s":"p","x":1560,"y":50.8},{"s":"p","x":1545,"y":47.8},{"s":"p","x":1530,"y":45.7},{"s":"p","x":1515,"y":45.1},{"s":"p","x":1500,"y":43.7},{"s":"p","x":1485,"y":42.7},{"s":"p","x":1470,"y":43.7},{"s":"p","x":1460,"y":45.5},{"s":"p","x":1450,"y":43.9},{"s":"p","x":1440,"y":44.7},{"s":"p","x":1420,"y":46.7},{"s":"p","x":1400,"y":48.8},{"s":"p","x":1385,"y":52.4},{"s":"p","x":1370,"y":57.3},{"s":"p","x":1355,"y":61.4},{"s":"p","x":1340,"y":63.0},{"s":"p","x":1325,"y":61.8},{"s":"p","x":1310,"y":58.9},{"s":"p","x":1295,"y":56.5},{"s":"p","x":1280,"y":53.3},{"s":"p","x":1260,"y":49.8},{"s":"p","x":1240,"y":47.2},{"s":"p","x":1220,"y":44.7},{"s":"p","x":1200,"y":42.3},{"s":"p","x":1180,"y":40.7},{"s":"p","x":1160,"y":39.4},{"s":"p","x":1140,"y":38.6},{"s":"p","x":1120,"y":37.6},{"s":"p","x":1100,"y":37.2},{"s":"p","x":1080,"y":36.6},{"s":"p","x":1060,"y":36.6},{"s":"p","x":1040,"y":35.8},{"s":"p","x":1020,"y":35.4},{"s":"p","x":1000,"y":35.0},
{"s":"g","x":2200,"y":5.5},{"s":"g","x":2180,"y":6.5},{"s":"g","x":2160,"y":5.7},{"s":"g","x":2130,"y":6.3},{"s":"g","x":2100,"y":5.7},{"s":"g","x":2070,"y":6.5},{"s":"g","x":2050,"y":5.9},{"s":"g","x":2020,"y":6.5},{"s":"g","x":2000,"y":5.9},{"s":"g","x":1970,"y":6.7},{"s":"g","x":1950,"y":6.1},{"s":"g","x":1920,"y":6.7},{"s":"g","x":1900,"y":6.1},{"s":"g","x":1880,"y":6.9},{"s":"g","x":1850,"y":6.3},{"s":"g","x":1820,"y":6.9},{"s":"g","x":1800,"y":6.5},{"s":"g","x":1780,"y":7.3},{"s":"g","x":1750,"y":6.5},{"s":"g","x":1720,"y":7.1},{"s":"g","x":1700,"y":6.9},{"s":"g","x":1680,"y":7.5},{"s":"g","x":1660,"y":8.5},{"s":"g","x":1645,"y":10.2},{"s":"g","x":1635,"y":13.0},{"s":"g","x":1625,"y":15.9},{"s":"g","x":1615,"y":20.3},{"s":"g","x":1600,"y":22.8},{"s":"g","x":1585,"y":24.4},{"s":"g","x":1570,"y":22.8},{"s":"g","x":1555,"y":19.3},{"s":"g","x":1540,"y":16.3},{"s":"g","x":1525,"y":13.8},{"s":"g","x":1510,"y":13.0},{"s":"g","x":1495,"y":12.2},{"s":"g","x":1480,"y":11.4},{"s":"g","x":1465,"y":14.2},{"s":"g","x":1455,"y":12.6},{"s":"g","x":1440,"y":13.0},{"s":"g","x":1425,"y":15.0},{"s":"g","x":1410,"y":16.7},{"s":"g","x":1395,"y":19.1},{"s":"g","x":1380,"y":22.8},{"s":"g","x":1365,"y":26.8},{"s":"g","x":1350,"y":29.1},{"s":"g","x":1335,"y":29.5},{"s":"g","x":1320,"y":28.5},{"s":"g","x":1305,"y":25.6},{"s":"g","x":1290,"y":22.8},{"s":"g","x":1275,"y":20.3},{"s":"g","x":1260,"y":18.3},{"s":"g","x":1245,"y":17.1},{"s":"g","x":1230,"y":15.2},{"s":"g","x":1210,"y":13.4},{"s":"g","x":1190,"y":12.2},{"s":"g","x":1170,"y":11.2},{"s":"g","x":1150,"y":10.2},{"s":"g","x":1130,"y":9.8},{"s":"g","x":1110,"y":8.9},{"s":"g","x":1090,"y":9.6},{"s":"g","x":1070,"y":8.9},{"s":"g","x":1050,"y":8.5},{"s":"g","x":1030,"y":8.5},{"s":"g","x":1010,"y":8.1},{"s":"g","x":1000,"y":8.1}
],
"fTl":[{"t":"Co/CZIF-12_900","x":2170,"y":72.2},{"t":"Co/CZIF-12_800","x":2170,"y":42.7},{"t":"Co/CZIF-12_700","x":2170,"y":15.2}],
"fTb":[{"t":"G","x":1575,"y":87.8},{"t":"G","x":1575,"y":60.6},{"t":"G","x":1575,"y":28.5},{"t":"D","x":1330,"y":95.9},{"t":"D","x":1330,"y":67.5},{"t":"D","x":1330,"y":35.0}],
"fI":[{"t":"I","x":1190,"y":87.4},{"t":"I","x":1190,"y":79.7},{"t":"I","x":1190,"y":58.1},{"t":"I","x":1190,"y":49.6},{"t":"I","x":1190,"y":24.4},{"t":"I","x":1190,"y":16.7}],
"fS":[{"t":"D","x":1172,"y":85.8},{"t":"G","x":1172,"y":78.0},{"t":"D","x":1172,"y":56.5},{"t":"G","x":1172,"y":48.0},{"t":"D","x":1172,"y":22.8},{"t":"G","x":1172,"y":15.0}],
"fR":[{"x":1200,"x2":1155,"y":83.7},{"x":1200,"x2":1155,"y":54.1},{"x":1200,"x2":1155,"y":20.7}],
"fE":[{"t":"= 1.09","x":1148,"y":82.7},{"t":"= 1.15","x":1148,"y":53.3},{"t":"= 1.14","x":1148,"y":19.9}]
},
"concat":[
{"width":225,"height":168,"title":{"text":"(a)","offset":9},"resolve":{"axis":{"x":"independent"}},
"layer":[
{"data":{"name":"aB"},"mark":"rect","encoding":{"x":{"field":"x","type":"quantitative","scale":{"domain":[3,80],"nice":false,"zero":false},"axis":{"orient":"top","labels":false,"title":null,"tickSize":-3,"values":[3,10,17,24,31,38,45,52,59,66,73,80]}},"x2":{"field":"x2"},"fill":{"field":"k","type":"nominal","scale":{"domain":["g","y","o"],"range":["#d9d5de","#f2e46f","#f0b567"]},"legend":null}}},
{"data":{"name":"aL"},"mark":{"type":"line","strokeWidth":1},"encoding":{"x":{"field":"x","type":"quantitative","axis":{"title":"2θ (°)","values":[3,10,17,24,31,38,45,52,59,66,73,80],"tickSize":-3,"labelPadding":9,"labelFontSize":9.5,"titleFontSize":10.5,"titlePadding":3}},"y":{"field":"y","type":"quantitative","scale":{"domain":[0,100],"nice":false},"axis":{"title":"Intensity (a.u.)","labels":false,"ticks":false,"titleFontSize":12.5,"titlePadding":3}},"color":{"field":"s","type":"nominal","scale":{"domain":["g","b","p","r","k"],"range":["#3dba4e","#1f6fc0","#6b2d8c","#ee2b2b","#000000"]},"legend":null}}},
{"data":{"name":"aTl"},"mark":{"type":"text","align":"left","baseline":"middle","fontSize":9,"color":"#000"},"encoding":{"x":{"field":"x","type":"quantitative","axis":null},"y":{"field":"y","type":"quantitative"},"text":{"field":"t"}}},
{"data":{"name":"aTr"},"mark":{"type":"text","align":"right","baseline":"middle","fontSize":9,"color":"#000"},"encoding":{"x":{"field":"x","type":"quantitative","axis":null},"y":{"field":"y","type":"quantitative"},"text":{"field":"t"}}},
{"data":{"name":"aTb"},"mark":{"type":"text","align":"center","baseline":"middle","fontSize":8,"fontWeight":"bold","color":"#000"},"encoding":{"x":{"field":"x","type":"quantitative","axis":null},"y":{"field":"y","type":"quantitative"},"text":{"field":"t"}}}
]},
{"width":226,"height":170,"title":{"text":"(b)","offset":9},"resolve":{"axis":{"x":"independent"}},
"layer":[
{"data":{"name":"bB"},"mark":"rect","encoding":{"x":{"field":"x","type":"quantitative","scale":{"domain":[5,81],"nice":false,"zero":false},"axis":{"orient":"top","labels":false,"title":null,"tickSize":-3,"values":[5,14,23,32,41,50,59,68,77]}},"x2":{"field":"x2"},"fill":{"field":"k","type":"nominal","scale":{"domain":["g","y","o"],"range":["#d9d5de","#f2e46f","#f0b567"]},"legend":null}}},
{"data":{"name":"bL"},"mark":{"type":"line","strokeWidth":1},"encoding":{"x":{"field":"x","type":"quantitative","axis":{"title":"2θ (°)","values":[5,14,23,32,41,50,59,68,77],"tickSize":-3,"labelPadding":9,"labelFontSize":9.5,"titleFontSize":10.5,"titlePadding":3}},"y":{"field":"y","type":"quantitative","scale":{"domain":[0,100],"nice":false},"axis":{"title":"Intensity (a.u.)","labels":false,"ticks":false,"titleFontSize":12.5,"titlePadding":3}},"color":{"field":"s","type":"nominal","scale":{"domain":["g","b","r","k"],"range":["#3dba4e","#1f6fc0","#ee2b2b","#000000"]},"legend":null}}},
{"data":{"name":"bTr"},"mark":{"type":"text","align":"right","baseline":"middle","fontSize":9,"color":"#000"},"encoding":{"x":{"field":"x","type":"quantitative","axis":null},"y":{"field":"y","type":"quantitative"},"text":{"field":"t"}}},
{"data":{"name":"bTh"},"mark":{"type":"text","align":"center","baseline":"middle","fontSize":8,"fontWeight":"bold","color":"#000"},"encoding":{"x":{"field":"x","type":"quantitative","axis":null},"y":{"field":"y","type":"quantitative"},"text":{"field":"t"}}},
{"data":{"name":"bTv"},"mark":{"type":"text","align":"center","baseline":"middle","fontSize":8,"fontWeight":"bold","angle":270,"color":"#000"},"encoding":{"x":{"field":"x","type":"quantitative","axis":null},"y":{"field":"y","type":"quantitative"},"text":{"field":"t"}}}
]},
{"width":225,"height":170,"title":{"text":"(c)","offset":9},"resolve":{"axis":{"x":"independent"}},
"layer":[
{"data":{"name":"cB"},"mark":"rect","encoding":{"x":{"field":"x","type":"quantitative","scale":{"domain":[5,81],"nice":false,"zero":false},"axis":{"orient":"top","labels":false,"title":null,"tickSize":-3,"values":[5,14,23,32,41,50,59,68,77]}},"x2":{"field":"x2"},"fill":{"field":"k","type":"nominal","scale":{"domain":["g","y","o"],"range":["#d9d5de","#f2e46f","#f0b567"]},"legend":null}}},
{"data":{"name":"cL"},"mark":{"type":"line","strokeWidth":1},"encoding":{"x":{"field":"x","type":"quantitative","axis":{"title":"2θ (°)","values":[5,14,23,32,41,50,59,68,77],"tickSize":-3,"labelPadding":9,"labelFontSize":9.5,"titleFontSize":10.5,"titlePadding":3}},"y":{"field":"y","type":"quantitative","scale":{"domain":[0,100],"nice":false},"axis":{"title":"Intensity (a.u.)","labels":false,"ticks":false,"titleFontSize":12.5,"titlePadding":3}},"color":{"field":"s","type":"nominal","scale":{"domain":["g","b","r","k"],"range":["#3dba4e","#1f6fc0","#ee2b2b","#000000"]},"legend":null}}},
{"data":{"name":"cTl"},"mark":{"type":"text","align":"left","baseline":"middle","fontSize":9,"color":"#000"},"encoding":{"x":{"field":"x","type":"quantitative","axis":null},"y":{"field":"y","type":"quantitative"},"text":{"field":"t"}}},
{"data":{"name":"cTh"},"mark":{"type":"text","align":"center","baseline":"middle","fontSize":8,"fontWeight":"bold","color":"#000"},"encoding":{"x":{"field":"x","type":"quantitative","axis":null},"y":{"field":"y","type":"quantitative"},"text":{"field":"t"}}},
{"data":{"name":"cTv"},"mark":{"type":"text","align":"center","baseline":"middle","fontSize":8,"fontWeight":"bold","angle":270,"color":"#000"},"encoding":{"x":{"field":"x","type":"quantitative","axis":null},"y":{"field":"y","type":"quantitative"},"text":{"field":"t"}}}
]},
{"width":225,"height":172,"title":{"text":"(d)","offset":8},"resolve":{"axis":{"x":"independent"}},
"layer":[
{"data":{"name":"dB"},"mark":"rect","encoding":{"x":{"field":"x","type":"quantitative","scale":{"domain":[1705,400],"nice":false,"zero":false},"axis":{"orient":"top","labels":false,"title":null,"tickSize":-3,"values":[1600,1400,1200,1000,800,600,400]}},"x2":{"field":"x2"},"fill":{"field":"k","type":"nominal","scale":{"domain":["g","y","o"],"range":["#d9d5de","#f2e46f","#f0b567"]},"legend":null}}},
{"data":{"name":"dBox"},"mark":{"type":"rect","color":"#d9d5de"},"encoding":{"x":{"field":"x","type":"quantitative","axis":null},"x2":{"field":"x2"},"y":{"field":"y","type":"quantitative"},"y2":{"field":"y2"}}},
{"data":{"name":"dL"},"mark":{"type":"line","strokeWidth":1},"encoding":{"x":{"field":"x","type":"quantitative","axis":{"title":"Raman shift (cm⁻¹)","values":[1600,1400,1200,1000,800,600,400],"format":"d","tickSize":-3,"labelPadding":10,"labelFontSize":10.5,"titleFontSize":12.5,"titlePadding":3}},"y":{"field":"y","type":"quantitative","scale":{"domain":[0,100],"nice":false},"axis":{"title":"Intensity (a.u.)","labels":false,"ticks":false,"titleFontSize":12.5,"titlePadding":3}},"color":{"field":"s","type":"nominal","scale":{"domain":["p","g","b","r","k"],"range":["#7b4a96","#2bb04a","#4a78ab","#ec2228","#111111"]},"legend":null}}},
{"data":{"name":"dTc"},"mark":{"type":"text","align":"center","baseline":"middle","fontSize":9,"color":"#000"},"encoding":{"x":{"field":"x","type":"quantitative","axis":null},"y":{"field":"y","type":"quantitative"},"text":{"field":"t"}}},
{"data":{"name":"dTb"},"mark":{"type":"text","align":"center","baseline":"middle","fontSize":10,"fontWeight":"bold","color":"#000"},"encoding":{"x":{"field":"x","type":"quantitative","axis":null},"y":{"field":"y","type":"quantitative"},"text":{"field":"t"}}},
{"data":{"name":"dTv"},"mark":{"type":"text","align":"center","baseline":"middle","fontSize":8.5,"angle":270,"color":"#1b1f4b"},"encoding":{"x":{"field":"x","type":"quantitative","axis":null},"y":{"field":"y","type":"quantitative"},"text":{"field":"t"}}},
{"data":{"name":"dTn"},"mark":{"type":"text","align":"center","baseline":"middle","fontSize":9,"fontWeight":"bold","angle":270,"color":"#1b1f6b"},"encoding":{"x":{"field":"x","type":"quantitative","axis":null},"y":{"field":"y","type":"quantitative"},"text":{"field":"t"}}}
]},
{"width":226,"height":163,"title":{"text":"(e)","offset":8},"resolve":{"axis":{"x":"independent"}},
"layer":[
{"data":{"name":"eR"},"mark":{"type":"rule","color":"#000","strokeWidth":0.8},"encoding":{"x":{"field":"x","type":"quantitative","scale":{"domain":[2200,1000],"nice":false,"zero":false},"axis":{"orient":"top","labels":false,"title":null,"tickSize":-3,"values":[2200,2000,1800,1600,1400,1200,1000]}},"x2":{"field":"x2"},"y":{"field":"y","type":"quantitative"}}},
{"data":{"name":"eL"},"mark":{"type":"line","strokeWidth":1},"encoding":{"x":{"field":"x","type":"quantitative","axis":{"title":"Raman shift (cm⁻¹)","values":[2200,2000,1800,1600,1400,1200,1000],"format":"d","tickSize":-3,"labelPadding":10,"labelFontSize":10.5,"titleFontSize":12.5,"titlePadding":3}},"y":{"field":"y","type":"quantitative","scale":{"domain":[0,100],"nice":false},"axis":{"title":"Intensity (a.u.)","labels":false,"ticks":false,"titleFontSize":12.5,"titlePadding":3}},"color":{"field":"s","type":"nominal","scale":{"domain":["b","r","k"],"range":["#2a86cc","#ee3030","#111111"]},"legend":null}}},
{"data":{"name":"eTl"},"mark":{"type":"text","align":"left","baseline":"middle","fontSize":8.7,"color":"#000"},"encoding":{"x":{"field":"x","type":"quantitative","axis":null},"y":{"field":"y","type":"quantitative"},"text":{"field":"t"}}},
{"data":{"name":"eTb"},"mark":{"type":"text","align":"center","baseline":"middle","fontSize":10,"fontWeight":"bold","color":"#000"},"encoding":{"x":{"field":"x","type":"quantitative","axis":null},"y":{"field":"y","type":"quantitative"},"text":{"field":"t"}}},
{"data":{"name":"eI"},"mark":{"type":"text","align":"center","baseline":"middle","fontSize":9,"color":"#000"},"encoding":{"x":{"field":"x","type":"quantitative","axis":null},"y":{"field":"y","type":"quantitative"},"text":{"field":"t"}}},
{"data":{"name":"eS"},"mark":{"type":"text","align":"center","baseline":"middle","fontSize":5.5,"color":"#000"},"encoding":{"x":{"field":"x","type":"quantitative","axis":null},"y":{"field":"y","type":"quantitative"},"text":{"field":"t"}}},
{"data":{"name":"eE"},"mark":{"type":"text","align":"left","baseline":"middle","fontSize":9,"color":"#000"},"encoding":{"x":{"field":"x","type":"quantitative","axis":null},"y":{"field":"y","type":"quantitative"},"text":{"field":"t"}}}
]},
{"width":225,"height":163,"title":{"text":"(f)","offset":8},"resolve":{"axis":{"x":"independent"}},
"layer":[
{"data":{"name":"fR"},"mark":{"type":"rule","color":"#000","strokeWidth":0.8},"encoding":{"x":{"field":"x","type":"quantitative","scale":{"domain":[2200,1000],"nice":false,"zero":false},"axis":{"orient":"top","labels":false,"title":null,"tickSize":-3,"values":[2200,2000,1800,1600,1400,1200,1000]}},"x2":{"field":"x2"},"y":{"field":"y","type":"quantitative"}}},
{"data":{"name":"fL"},"mark":{"type":"line","strokeWidth":1},"encoding":{"x":{"field":"x","type":"quantitative","axis":{"title":"Raman shift (cm⁻¹)","values":[2200,2000,1800,1600,1400,1200,1000],"format":"d","tickSize":-3,"labelPadding":10,"labelFontSize":10.5,"titleFontSize":12.5,"titlePadding":3}},"y":{"field":"y","type":"quantitative","scale":{"domain":[0,100],"nice":false},"axis":{"title":"Intensity (a.u.)","labels":false,"ticks":false,"titleFontSize":12.5,"titlePadding":3}},"color":{"field":"s","type":"nominal","scale":{"domain":["n","p","g"],"range":["#243350","#8c4a9b","#32b44a"]},"legend":null}}},
{"data":{"name":"fTl"},"mark":{"type":"text","align":"left","baseline":"middle","fontSize":8.7,"color":"#000"},"encoding":{"x":{"field":"x","type":"quantitative","axis":null},"y":{"field":"y","type":"quantitative"},"text":{"field":"t"}}},
{"data":{"name":"fTb"},"mark":{"type":"text","align":"center","baseline":"middle","fontSize":10,"fontWeight":"bold","color":"#000"},"encoding":{"x":{"field":"x","type":"quantitative","axis":null},"y":{"field":"y","type":"quantitative"},"text":{"field":"t"}}},
{"data":{"name":"fI"},"mark":{"type":"text","align":"center","baseline":"middle","fontSize":9,"color":"#000"},"encoding":{"x":{"field":"x","type":"quantitative","axis":null},"y":{"field":"y","type":"quantitative"},"text":{"field":"t"}}},
{"data":{"name":"fS"},"mark":{"type":"text","align":"center","baseline":"middle","fontSize":5.5,"color":"#000"},"encoding":{"x":{"field":"x","type":"quantitative","axis":null},"y":{"field":"y","type":"quantitative"},"text":{"field":"t"}}},
{"data":{"name":"fE"},"mark":{"type":"text","align":"left","baseline":"middle","fontSize":9,"color":"#000"},"encoding":{"x":{"field":"x","type":"quantitative","axis":null},"y":{"field":"y","type":"quantitative"},"text":{"field":"t"}}}
]}
],
"config":{
"view":{"stroke":"#000","strokeWidth":1},
"font":"Liberation Sans",
"axis":{"domainColor":"#000","domainWidth":1,"tickColor":"#000","tickWidth":1,"labelColor":"#000","titleColor":"#000","grid":false,"titleFontWeight":"normal","labelFlush":false,"labelFont":"Liberation Sans","titleFont":"Liberation Sans","labelOverlap":false},
"title":{"font":"Liberation Sans","fontWeight":"bold","fontSize":11,"anchor":"start","color":"#000"},
"text":{"font":"Liberation Sans"}
}
}
